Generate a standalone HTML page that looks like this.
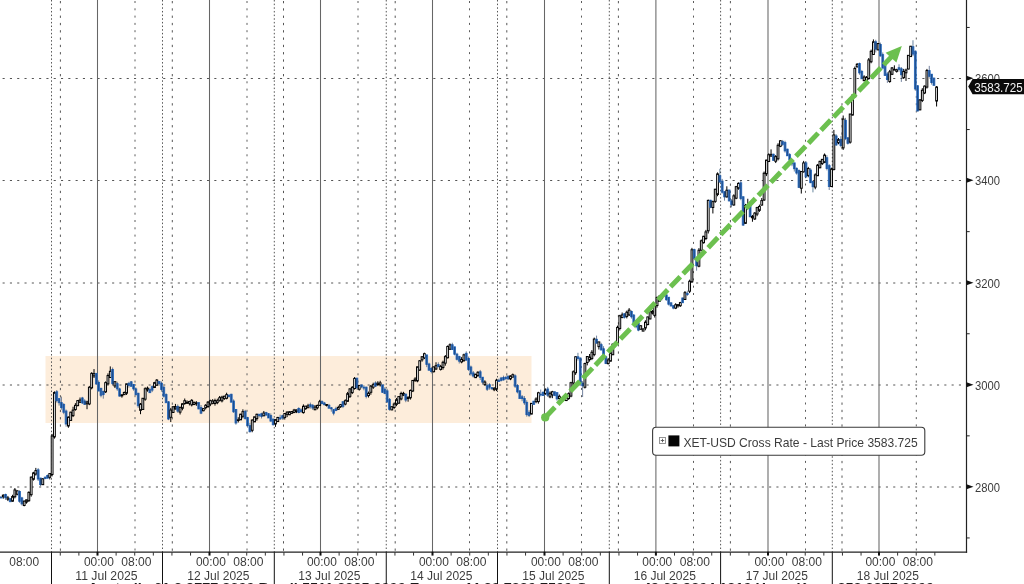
<!DOCTYPE html>
<html><head><meta charset="utf-8"><title>XET-USD Cross Rate</title>
<style>
html,body{margin:0;padding:0;background:#fff;}
body{width:1024px;height:584px;overflow:hidden;position:relative;font-family:"Liberation Sans",sans-serif;}
svg text{font-family:"Liberation Sans",sans-serif;}
svg{opacity:0.999;will-change:transform;}
</style></head><body>
<svg width="1024" height="584" viewBox="0 0 1024 584" style="display:block;position:absolute;left:0;top:0">
<defs><filter id="bl" x="0" y="0" width="100%" height="100%" filterUnits="userSpaceOnUse"><feGaussianBlur stdDeviation="0.35"/></filter></defs>
<rect x="0" y="0" width="1024" height="584" fill="#ffffff"/>
<rect x="45.5" y="356" width="486" height="67" fill="#fdeddb"/>
<line x1="0" y1="78.50" x2="964.5" y2="78.50" stroke="#555" stroke-width="1" stroke-dasharray="2.1 5.2" stroke-dashoffset="-2.6"/>
<line x1="0" y1="180.50" x2="964.5" y2="180.50" stroke="#555" stroke-width="1" stroke-dasharray="2.1 5.2" stroke-dashoffset="-2.6"/>
<line x1="0" y1="283.00" x2="964.5" y2="283.00" stroke="#555" stroke-width="1" stroke-dasharray="2.1 5.2" stroke-dashoffset="-2.6"/>
<line x1="0" y1="385.00" x2="964.5" y2="385.00" stroke="#555" stroke-width="1" stroke-dasharray="2.1 5.2" stroke-dashoffset="-2.6"/>
<line x1="0" y1="487.00" x2="964.5" y2="487.00" stroke="#555" stroke-width="1" stroke-dasharray="2.1 5.2" stroke-dashoffset="-2.6"/>
<line x1="97.50" y1="0" x2="97.50" y2="552.2" stroke="#666" stroke-width="1.05"/>
<line x1="209.50" y1="0" x2="209.50" y2="552.2" stroke="#666" stroke-width="1.05"/>
<line x1="320.50" y1="0" x2="320.50" y2="552.2" stroke="#666" stroke-width="1.05"/>
<line x1="432.50" y1="0" x2="432.50" y2="552.2" stroke="#666" stroke-width="1.05"/>
<line x1="544.50" y1="0" x2="544.50" y2="552.2" stroke="#666" stroke-width="1.05"/>
<line x1="655.90" y1="0" x2="655.90" y2="552.2" stroke="#666" stroke-width="1.05"/>
<line x1="768.00" y1="0" x2="768.00" y2="552.2" stroke="#666" stroke-width="1.05"/>
<line x1="879.00" y1="0" x2="879.00" y2="552.2" stroke="#666" stroke-width="1.05"/>
<line x1="135.00" y1="0" x2="135.00" y2="552.2" stroke="#5c5c5c" stroke-width="1" stroke-dasharray="2.0 5.3" stroke-dashoffset="-1"/>
<line x1="247.00" y1="0" x2="247.00" y2="552.2" stroke="#5c5c5c" stroke-width="1" stroke-dasharray="2.0 5.3" stroke-dashoffset="-1"/>
<line x1="358.00" y1="0" x2="358.00" y2="552.2" stroke="#5c5c5c" stroke-width="1" stroke-dasharray="2.0 5.3" stroke-dashoffset="-1"/>
<line x1="469.50" y1="0" x2="469.50" y2="552.2" stroke="#5c5c5c" stroke-width="1" stroke-dasharray="2.0 5.3" stroke-dashoffset="-1"/>
<line x1="581.50" y1="0" x2="581.50" y2="552.2" stroke="#5c5c5c" stroke-width="1" stroke-dasharray="2.0 5.3" stroke-dashoffset="-1"/>
<line x1="693.50" y1="0" x2="693.50" y2="552.2" stroke="#5c5c5c" stroke-width="1" stroke-dasharray="2.0 5.3" stroke-dashoffset="-1"/>
<line x1="805.50" y1="0" x2="805.50" y2="552.2" stroke="#5c5c5c" stroke-width="1" stroke-dasharray="2.0 5.3" stroke-dashoffset="-1"/>
<line x1="916.30" y1="0" x2="916.30" y2="552.2" stroke="#5c5c5c" stroke-width="1" stroke-dasharray="2.0 5.3" stroke-dashoffset="-1"/>
<line x1="51.50" y1="0" x2="51.50" y2="552.2" stroke="#555" stroke-width="1" stroke-dasharray="1.5 2.15"/>
<line x1="162.50" y1="0" x2="162.50" y2="552.2" stroke="#555" stroke-width="1" stroke-dasharray="1.5 2.15"/>
<line x1="274.30" y1="0" x2="274.30" y2="552.2" stroke="#555" stroke-width="1" stroke-dasharray="1.5 2.15"/>
<line x1="386.25" y1="0" x2="386.25" y2="552.2" stroke="#555" stroke-width="1" stroke-dasharray="1.5 2.15"/>
<line x1="497.50" y1="0" x2="497.50" y2="552.2" stroke="#555" stroke-width="1" stroke-dasharray="1.5 2.15"/>
<line x1="609.30" y1="0" x2="609.30" y2="552.2" stroke="#555" stroke-width="1" stroke-dasharray="1.5 2.15"/>
<line x1="720.60" y1="0" x2="720.60" y2="552.2" stroke="#555" stroke-width="1" stroke-dasharray="1.5 2.15"/>
<line x1="832.30" y1="0" x2="832.30" y2="552.2" stroke="#555" stroke-width="1" stroke-dasharray="1.5 2.15"/>
<line x1="60.40" y1="0" x2="60.40" y2="552.2" stroke="#555" stroke-width="1" stroke-dasharray="2.3 5.0" stroke-dashoffset="-1"/>
<line x1="172.30" y1="0" x2="172.30" y2="552.2" stroke="#555" stroke-width="1" stroke-dasharray="2.3 5.0" stroke-dashoffset="-1"/>
<line x1="283.50" y1="0" x2="283.50" y2="552.2" stroke="#555" stroke-width="1" stroke-dasharray="2.3 5.0" stroke-dashoffset="-1"/>
<line x1="395.20" y1="0" x2="395.20" y2="552.2" stroke="#555" stroke-width="1" stroke-dasharray="2.3 5.0" stroke-dashoffset="-1"/>
<line x1="506.80" y1="0" x2="506.80" y2="552.2" stroke="#555" stroke-width="1" stroke-dasharray="2.3 5.0" stroke-dashoffset="-1"/>
<line x1="618.40" y1="0" x2="618.40" y2="552.2" stroke="#555" stroke-width="1" stroke-dasharray="2.3 5.0" stroke-dashoffset="-1"/>
<line x1="730.40" y1="0" x2="730.40" y2="552.2" stroke="#555" stroke-width="1" stroke-dasharray="2.3 5.0" stroke-dashoffset="-1"/>
<line x1="842.00" y1="0" x2="842.00" y2="552.2" stroke="#555" stroke-width="1" stroke-dasharray="2.3 5.0" stroke-dashoffset="-1"/>
<g filter="url(#bl)">
<rect x="0.03" y="497.19" width="1.8" height="0.80" fill="#3070c2" stroke="#3070c2" stroke-width="0.9"/>
<line x1="0.93" y1="496.08" x2="0.93" y2="498.12" stroke="#10305e" stroke-width="0.8" stroke-opacity="0.75"/>
<line x1="3.26" y1="494.29" x2="3.26" y2="498.70" stroke="#000" stroke-width="1.0"/>
<rect x="2.36" y="495.23" width="1.8" height="1.55" fill="#fff" stroke="#000" stroke-width="1.0"/>
<rect x="4.68" y="494.50" width="1.8" height="3.26" fill="#3070c2" stroke="#3070c2" stroke-width="0.9"/>
<line x1="5.58" y1="493.63" x2="5.58" y2="499.91" stroke="#10305e" stroke-width="0.8" stroke-opacity="0.75"/>
<line x1="7.91" y1="495.94" x2="7.91" y2="501.07" stroke="#000" stroke-width="1.0"/>
<rect x="7.01" y="497.94" width="1.8" height="1.33" fill="#fff" stroke="#000" stroke-width="1.0"/>
<rect x="9.34" y="498.62" width="1.8" height="3.11" fill="#3070c2" stroke="#3070c2" stroke-width="0.9"/>
<line x1="10.24" y1="498.48" x2="10.24" y2="501.86" stroke="#10305e" stroke-width="0.8" stroke-opacity="0.75"/>
<line x1="12.56" y1="494.77" x2="12.56" y2="501.81" stroke="#000" stroke-width="1.0"/>
<rect x="11.66" y="496.52" width="1.8" height="4.64" fill="#fff" stroke="#000" stroke-width="1.0"/>
<line x1="14.89" y1="488.04" x2="14.89" y2="498.39" stroke="#000" stroke-width="1.0"/>
<rect x="13.99" y="489.96" width="1.8" height="6.82" fill="#fff" stroke="#000" stroke-width="1.0"/>
<line x1="17.22" y1="490.49" x2="17.22" y2="495.33" stroke="#000" stroke-width="1.0"/>
<rect x="16.32" y="490.83" width="1.8" height="3.43" fill="#fff" stroke="#000" stroke-width="1.0"/>
<rect x="18.64" y="491.51" width="1.8" height="9.78" fill="#3070c2" stroke="#3070c2" stroke-width="0.9"/>
<line x1="19.54" y1="490.31" x2="19.54" y2="502.81" stroke="#10305e" stroke-width="0.8" stroke-opacity="0.75"/>
<rect x="20.97" y="497.89" width="1.8" height="5.99" fill="#3070c2" stroke="#3070c2" stroke-width="0.9"/>
<line x1="21.87" y1="496.85" x2="21.87" y2="505.46" stroke="#10305e" stroke-width="0.8" stroke-opacity="0.75"/>
<line x1="24.20" y1="500.49" x2="24.20" y2="506.31" stroke="#000" stroke-width="1.0"/>
<rect x="23.30" y="501.12" width="1.8" height="4.34" fill="#fff" stroke="#000" stroke-width="1.0"/>
<line x1="26.52" y1="499.70" x2="26.52" y2="503.70" stroke="#000" stroke-width="1.0"/>
<rect x="25.62" y="499.83" width="1.8" height="2.19" fill="#fff" stroke="#000" stroke-width="1.0"/>
<line x1="28.85" y1="491.38" x2="28.85" y2="501.92" stroke="#000" stroke-width="1.0"/>
<rect x="27.95" y="492.37" width="1.8" height="8.34" fill="#fff" stroke="#000" stroke-width="1.0"/>
<line x1="31.18" y1="476.39" x2="31.18" y2="496.65" stroke="#000" stroke-width="1.0"/>
<rect x="30.28" y="477.18" width="1.8" height="17.53" fill="#fff" stroke="#000" stroke-width="1.0"/>
<line x1="33.50" y1="471.84" x2="33.50" y2="480.57" stroke="#000" stroke-width="1.0"/>
<rect x="32.60" y="472.91" width="1.8" height="6.37" fill="#fff" stroke="#000" stroke-width="1.0"/>
<line x1="35.83" y1="467.90" x2="35.83" y2="475.58" stroke="#000" stroke-width="1.0"/>
<rect x="34.93" y="470.58" width="1.8" height="3.47" fill="#fff" stroke="#000" stroke-width="1.0"/>
<rect x="37.26" y="469.82" width="1.8" height="9.22" fill="#3070c2" stroke="#3070c2" stroke-width="0.9"/>
<line x1="38.16" y1="468.10" x2="38.16" y2="480.96" stroke="#10305e" stroke-width="0.8" stroke-opacity="0.75"/>
<rect x="39.58" y="478.07" width="1.8" height="6.54" fill="#3070c2" stroke="#3070c2" stroke-width="0.9"/>
<line x1="40.48" y1="477.84" x2="40.48" y2="486.15" stroke="#10305e" stroke-width="0.8" stroke-opacity="0.75"/>
<line x1="42.81" y1="478.09" x2="42.81" y2="484.89" stroke="#000" stroke-width="1.0"/>
<rect x="41.91" y="478.81" width="1.8" height="5.86" fill="#fff" stroke="#000" stroke-width="1.0"/>
<rect x="44.24" y="477.18" width="1.8" height="1.32" fill="#3070c2" stroke="#3070c2" stroke-width="0.9"/>
<line x1="45.14" y1="476.62" x2="45.14" y2="479.26" stroke="#10305e" stroke-width="0.8" stroke-opacity="0.75"/>
<rect x="46.56" y="475.55" width="1.8" height="2.62" fill="#3070c2" stroke="#3070c2" stroke-width="0.9"/>
<line x1="47.46" y1="474.49" x2="47.46" y2="478.37" stroke="#10305e" stroke-width="0.8" stroke-opacity="0.75"/>
<line x1="49.79" y1="473.52" x2="49.79" y2="479.42" stroke="#000" stroke-width="1.0"/>
<rect x="48.89" y="473.57" width="1.8" height="3.76" fill="#fff" stroke="#000" stroke-width="1.0"/>
<line x1="52.12" y1="433.86" x2="52.12" y2="476.35" stroke="#000" stroke-width="1.0"/>
<rect x="51.22" y="436.01" width="1.8" height="38.44" fill="#fff" stroke="#000" stroke-width="1.0"/>
<line x1="54.44" y1="391.36" x2="54.44" y2="438.63" stroke="#000" stroke-width="1.0"/>
<rect x="53.54" y="392.53" width="1.8" height="44.39" fill="#fff" stroke="#000" stroke-width="1.0"/>
<rect x="55.87" y="391.78" width="1.8" height="8.89" fill="#3070c2" stroke="#3070c2" stroke-width="0.9"/>
<line x1="56.77" y1="390.01" x2="56.77" y2="402.47" stroke="#10305e" stroke-width="0.8" stroke-opacity="0.75"/>
<rect x="58.20" y="398.56" width="1.8" height="4.17" fill="#3070c2" stroke="#3070c2" stroke-width="0.9"/>
<line x1="59.10" y1="398.50" x2="59.10" y2="405.61" stroke="#10305e" stroke-width="0.8" stroke-opacity="0.75"/>
<rect x="60.52" y="402.61" width="1.8" height="4.99" fill="#3070c2" stroke="#3070c2" stroke-width="0.9"/>
<line x1="61.42" y1="396.58" x2="61.42" y2="409.70" stroke="#10305e" stroke-width="0.8" stroke-opacity="0.75"/>
<rect x="62.85" y="404.53" width="1.8" height="7.72" fill="#3070c2" stroke="#3070c2" stroke-width="0.9"/>
<line x1="63.75" y1="403.16" x2="63.75" y2="414.23" stroke="#10305e" stroke-width="0.8" stroke-opacity="0.75"/>
<rect x="65.18" y="411.02" width="1.8" height="12.99" fill="#3070c2" stroke="#3070c2" stroke-width="0.9"/>
<line x1="66.08" y1="409.56" x2="66.08" y2="426.67" stroke="#10305e" stroke-width="0.8" stroke-opacity="0.75"/>
<line x1="68.40" y1="416.41" x2="68.40" y2="427.76" stroke="#000" stroke-width="1.0"/>
<rect x="67.50" y="417.14" width="1.8" height="8.82" fill="#fff" stroke="#000" stroke-width="1.0"/>
<line x1="70.73" y1="411.79" x2="70.73" y2="420.69" stroke="#000" stroke-width="1.0"/>
<rect x="69.83" y="412.17" width="1.8" height="8.24" fill="#fff" stroke="#000" stroke-width="1.0"/>
<line x1="73.06" y1="406.73" x2="73.06" y2="417.07" stroke="#000" stroke-width="1.0"/>
<rect x="72.16" y="410.11" width="1.8" height="5.52" fill="#fff" stroke="#000" stroke-width="1.0"/>
<line x1="75.38" y1="403.15" x2="75.38" y2="410.71" stroke="#000" stroke-width="1.0"/>
<rect x="74.48" y="405.37" width="1.8" height="4.18" fill="#fff" stroke="#000" stroke-width="1.0"/>
<line x1="77.71" y1="400.04" x2="77.71" y2="406.28" stroke="#000" stroke-width="1.0"/>
<rect x="76.81" y="400.60" width="1.8" height="5.03" fill="#fff" stroke="#000" stroke-width="1.0"/>
<line x1="80.04" y1="397.50" x2="80.04" y2="403.03" stroke="#000" stroke-width="1.0"/>
<rect x="79.14" y="400.05" width="1.8" height="2.21" fill="#fff" stroke="#000" stroke-width="1.0"/>
<rect x="81.46" y="397.96" width="1.8" height="4.90" fill="#3070c2" stroke="#3070c2" stroke-width="0.9"/>
<line x1="82.36" y1="396.86" x2="82.36" y2="404.03" stroke="#10305e" stroke-width="0.8" stroke-opacity="0.75"/>
<rect x="83.79" y="401.00" width="1.8" height="3.36" fill="#3070c2" stroke="#3070c2" stroke-width="0.9"/>
<line x1="84.69" y1="399.24" x2="84.69" y2="404.76" stroke="#10305e" stroke-width="0.8" stroke-opacity="0.75"/>
<line x1="87.02" y1="400.70" x2="87.02" y2="409.23" stroke="#000" stroke-width="1.0"/>
<rect x="86.12" y="401.92" width="1.8" height="1.87" fill="#fff" stroke="#000" stroke-width="1.0"/>
<line x1="89.34" y1="385.91" x2="89.34" y2="405.17" stroke="#000" stroke-width="1.0"/>
<rect x="88.44" y="387.30" width="1.8" height="16.63" fill="#fff" stroke="#000" stroke-width="1.0"/>
<line x1="91.67" y1="372.25" x2="91.67" y2="389.32" stroke="#000" stroke-width="1.0"/>
<rect x="90.77" y="373.38" width="1.8" height="14.42" fill="#fff" stroke="#000" stroke-width="1.0"/>
<line x1="94.00" y1="369.07" x2="94.00" y2="378.01" stroke="#000" stroke-width="1.0"/>
<rect x="93.10" y="373.60" width="1.8" height="2.31" fill="#fff" stroke="#000" stroke-width="1.0"/>
<rect x="95.42" y="373.38" width="1.8" height="10.55" fill="#3070c2" stroke="#3070c2" stroke-width="0.9"/>
<line x1="96.32" y1="373.11" x2="96.32" y2="384.90" stroke="#10305e" stroke-width="0.8" stroke-opacity="0.75"/>
<rect x="97.75" y="382.38" width="1.8" height="8.60" fill="#3070c2" stroke="#3070c2" stroke-width="0.9"/>
<line x1="98.65" y1="380.41" x2="98.65" y2="391.32" stroke="#10305e" stroke-width="0.8" stroke-opacity="0.75"/>
<rect x="100.08" y="388.31" width="1.8" height="6.94" fill="#3070c2" stroke="#3070c2" stroke-width="0.9"/>
<line x1="100.98" y1="387.82" x2="100.98" y2="397.34" stroke="#10305e" stroke-width="0.8" stroke-opacity="0.75"/>
<rect x="102.40" y="391.54" width="1.8" height="3.07" fill="#3070c2" stroke="#3070c2" stroke-width="0.9"/>
<line x1="103.30" y1="390.59" x2="103.30" y2="398.63" stroke="#10305e" stroke-width="0.8" stroke-opacity="0.75"/>
<line x1="105.63" y1="381.40" x2="105.63" y2="393.04" stroke="#000" stroke-width="1.0"/>
<rect x="104.73" y="382.62" width="1.8" height="9.19" fill="#fff" stroke="#000" stroke-width="1.0"/>
<line x1="107.96" y1="373.38" x2="107.96" y2="385.64" stroke="#000" stroke-width="1.0"/>
<rect x="107.06" y="375.54" width="1.8" height="8.36" fill="#fff" stroke="#000" stroke-width="1.0"/>
<line x1="110.28" y1="366.41" x2="110.28" y2="377.80" stroke="#000" stroke-width="1.0"/>
<rect x="109.38" y="371.30" width="1.8" height="6.21" fill="#fff" stroke="#000" stroke-width="1.0"/>
<rect x="111.71" y="369.53" width="1.8" height="14.14" fill="#3070c2" stroke="#3070c2" stroke-width="0.9"/>
<line x1="112.61" y1="367.51" x2="112.61" y2="384.92" stroke="#10305e" stroke-width="0.8" stroke-opacity="0.75"/>
<line x1="114.94" y1="381.49" x2="114.94" y2="388.04" stroke="#000" stroke-width="1.0"/>
<rect x="114.04" y="381.65" width="1.8" height="4.33" fill="#fff" stroke="#000" stroke-width="1.0"/>
<rect x="116.36" y="383.68" width="1.8" height="5.13" fill="#3070c2" stroke="#3070c2" stroke-width="0.9"/>
<line x1="117.26" y1="381.78" x2="117.26" y2="390.80" stroke="#10305e" stroke-width="0.8" stroke-opacity="0.75"/>
<rect x="118.69" y="388.91" width="1.8" height="7.19" fill="#3070c2" stroke="#3070c2" stroke-width="0.9"/>
<line x1="119.59" y1="387.75" x2="119.59" y2="396.62" stroke="#10305e" stroke-width="0.8" stroke-opacity="0.75"/>
<line x1="121.92" y1="394.18" x2="121.92" y2="397.67" stroke="#000" stroke-width="1.0"/>
<rect x="121.02" y="394.89" width="1.8" height="0.96" fill="#fff" stroke="#000" stroke-width="1.0"/>
<line x1="124.24" y1="391.50" x2="124.24" y2="394.88" stroke="#000" stroke-width="1.0"/>
<rect x="123.34" y="392.51" width="1.8" height="2.13" fill="#fff" stroke="#000" stroke-width="1.0"/>
<line x1="126.57" y1="383.64" x2="126.57" y2="394.96" stroke="#000" stroke-width="1.0"/>
<rect x="125.67" y="383.88" width="1.8" height="9.28" fill="#fff" stroke="#000" stroke-width="1.0"/>
<rect x="128.00" y="383.34" width="1.8" height="1.97" fill="#3070c2" stroke="#3070c2" stroke-width="0.9"/>
<line x1="128.90" y1="381.83" x2="128.90" y2="387.66" stroke="#10305e" stroke-width="0.8" stroke-opacity="0.75"/>
<rect x="130.32" y="381.81" width="1.8" height="4.52" fill="#3070c2" stroke="#3070c2" stroke-width="0.9"/>
<line x1="131.22" y1="381.04" x2="131.22" y2="386.45" stroke="#10305e" stroke-width="0.8" stroke-opacity="0.75"/>
<rect x="132.65" y="384.42" width="1.8" height="4.44" fill="#3070c2" stroke="#3070c2" stroke-width="0.9"/>
<line x1="133.55" y1="384.23" x2="133.55" y2="390.70" stroke="#10305e" stroke-width="0.8" stroke-opacity="0.75"/>
<rect x="134.98" y="388.92" width="1.8" height="5.72" fill="#3070c2" stroke="#3070c2" stroke-width="0.9"/>
<line x1="135.88" y1="387.41" x2="135.88" y2="395.48" stroke="#10305e" stroke-width="0.8" stroke-opacity="0.75"/>
<rect x="137.30" y="393.28" width="1.8" height="12.48" fill="#3070c2" stroke="#3070c2" stroke-width="0.9"/>
<line x1="138.20" y1="392.74" x2="138.20" y2="407.88" stroke="#10305e" stroke-width="0.8" stroke-opacity="0.75"/>
<line x1="140.53" y1="402.96" x2="140.53" y2="414.19" stroke="#000" stroke-width="1.0"/>
<rect x="139.63" y="404.07" width="1.8" height="6.27" fill="#fff" stroke="#000" stroke-width="1.0"/>
<line x1="142.86" y1="398.18" x2="142.86" y2="409.52" stroke="#000" stroke-width="1.0"/>
<rect x="141.96" y="398.27" width="1.8" height="11.19" fill="#fff" stroke="#000" stroke-width="1.0"/>
<line x1="145.18" y1="387.27" x2="145.18" y2="400.75" stroke="#000" stroke-width="1.0"/>
<rect x="144.28" y="388.72" width="1.8" height="10.45" fill="#fff" stroke="#000" stroke-width="1.0"/>
<line x1="147.51" y1="386.56" x2="147.51" y2="391.67" stroke="#000" stroke-width="1.0"/>
<rect x="146.61" y="388.16" width="1.8" height="1.75" fill="#fff" stroke="#000" stroke-width="1.0"/>
<rect x="148.94" y="389.58" width="1.8" height="3.09" fill="#3070c2" stroke="#3070c2" stroke-width="0.9"/>
<line x1="149.84" y1="387.80" x2="149.84" y2="392.98" stroke="#10305e" stroke-width="0.8" stroke-opacity="0.75"/>
<rect x="151.26" y="386.63" width="1.8" height="3.50" fill="#3070c2" stroke="#3070c2" stroke-width="0.9"/>
<line x1="152.16" y1="385.34" x2="152.16" y2="392.09" stroke="#10305e" stroke-width="0.8" stroke-opacity="0.75"/>
<line x1="154.49" y1="381.85" x2="154.49" y2="388.04" stroke="#000" stroke-width="1.0"/>
<rect x="153.59" y="382.64" width="1.8" height="4.84" fill="#fff" stroke="#000" stroke-width="1.0"/>
<line x1="156.82" y1="379.05" x2="156.82" y2="385.22" stroke="#000" stroke-width="1.0"/>
<rect x="155.92" y="380.13" width="1.8" height="5.09" fill="#fff" stroke="#000" stroke-width="1.0"/>
<rect x="158.24" y="381.51" width="1.8" height="2.22" fill="#3070c2" stroke="#3070c2" stroke-width="0.9"/>
<line x1="159.14" y1="381.37" x2="159.14" y2="385.76" stroke="#10305e" stroke-width="0.8" stroke-opacity="0.75"/>
<rect x="160.57" y="383.19" width="1.8" height="6.31" fill="#3070c2" stroke="#3070c2" stroke-width="0.9"/>
<line x1="161.47" y1="381.56" x2="161.47" y2="391.65" stroke="#10305e" stroke-width="0.8" stroke-opacity="0.75"/>
<rect x="162.90" y="387.25" width="1.8" height="8.92" fill="#3070c2" stroke="#3070c2" stroke-width="0.9"/>
<line x1="163.80" y1="385.89" x2="163.80" y2="397.58" stroke="#10305e" stroke-width="0.8" stroke-opacity="0.75"/>
<rect x="165.22" y="394.58" width="1.8" height="8.15" fill="#3070c2" stroke="#3070c2" stroke-width="0.9"/>
<line x1="166.12" y1="393.33" x2="166.12" y2="402.76" stroke="#10305e" stroke-width="0.8" stroke-opacity="0.75"/>
<rect x="167.55" y="401.81" width="1.8" height="17.21" fill="#3070c2" stroke="#3070c2" stroke-width="0.9"/>
<line x1="168.45" y1="401.17" x2="168.45" y2="420.15" stroke="#10305e" stroke-width="0.8" stroke-opacity="0.75"/>
<line x1="170.78" y1="407.87" x2="170.78" y2="422.06" stroke="#000" stroke-width="1.0"/>
<rect x="169.88" y="410.03" width="1.8" height="7.26" fill="#fff" stroke="#000" stroke-width="1.0"/>
<line x1="173.10" y1="406.14" x2="173.10" y2="412.92" stroke="#000" stroke-width="1.0"/>
<rect x="172.20" y="406.73" width="1.8" height="5.72" fill="#fff" stroke="#000" stroke-width="1.0"/>
<line x1="175.43" y1="403.90" x2="175.43" y2="409.39" stroke="#000" stroke-width="1.0"/>
<rect x="174.53" y="406.52" width="1.8" height="2.57" fill="#fff" stroke="#000" stroke-width="1.0"/>
<rect x="176.86" y="406.38" width="1.8" height="4.75" fill="#3070c2" stroke="#3070c2" stroke-width="0.9"/>
<line x1="177.76" y1="404.41" x2="177.76" y2="412.77" stroke="#10305e" stroke-width="0.8" stroke-opacity="0.75"/>
<line x1="180.08" y1="406.94" x2="180.08" y2="414.51" stroke="#000" stroke-width="1.0"/>
<rect x="179.18" y="407.25" width="1.8" height="4.91" fill="#fff" stroke="#000" stroke-width="1.0"/>
<line x1="182.41" y1="403.15" x2="182.41" y2="410.33" stroke="#000" stroke-width="1.0"/>
<rect x="181.51" y="403.84" width="1.8" height="4.45" fill="#fff" stroke="#000" stroke-width="1.0"/>
<line x1="184.74" y1="398.50" x2="184.74" y2="404.82" stroke="#000" stroke-width="1.0"/>
<rect x="183.84" y="400.70" width="1.8" height="2.83" fill="#fff" stroke="#000" stroke-width="1.0"/>
<line x1="187.06" y1="400.42" x2="187.06" y2="403.91" stroke="#000" stroke-width="1.0"/>
<rect x="186.16" y="402.26" width="1.8" height="1.03" fill="#fff" stroke="#000" stroke-width="1.0"/>
<line x1="189.39" y1="400.78" x2="189.39" y2="405.41" stroke="#000" stroke-width="1.0"/>
<rect x="188.49" y="401.60" width="1.8" height="1.71" fill="#fff" stroke="#000" stroke-width="1.0"/>
<line x1="191.72" y1="399.13" x2="191.72" y2="406.40" stroke="#000" stroke-width="1.0"/>
<rect x="190.82" y="400.34" width="1.8" height="4.48" fill="#fff" stroke="#000" stroke-width="1.0"/>
<line x1="194.04" y1="401.68" x2="194.04" y2="404.68" stroke="#000" stroke-width="1.0"/>
<rect x="193.14" y="402.30" width="1.8" height="2.27" fill="#fff" stroke="#000" stroke-width="1.0"/>
<line x1="196.37" y1="401.19" x2="196.37" y2="405.82" stroke="#000" stroke-width="1.0"/>
<rect x="195.47" y="402.81" width="1.8" height="0.86" fill="#fff" stroke="#000" stroke-width="1.0"/>
<rect x="197.80" y="402.67" width="1.8" height="6.23" fill="#3070c2" stroke="#3070c2" stroke-width="0.9"/>
<line x1="198.70" y1="402.30" x2="198.70" y2="409.26" stroke="#10305e" stroke-width="0.8" stroke-opacity="0.75"/>
<rect x="200.12" y="407.39" width="1.8" height="5.75" fill="#3070c2" stroke="#3070c2" stroke-width="0.9"/>
<line x1="201.02" y1="405.03" x2="201.02" y2="414.13" stroke="#10305e" stroke-width="0.8" stroke-opacity="0.75"/>
<line x1="203.35" y1="408.09" x2="203.35" y2="411.30" stroke="#000" stroke-width="1.0"/>
<rect x="202.45" y="408.61" width="1.8" height="2.12" fill="#fff" stroke="#000" stroke-width="1.0"/>
<line x1="205.68" y1="404.12" x2="205.68" y2="409.48" stroke="#000" stroke-width="1.0"/>
<rect x="204.78" y="405.28" width="1.8" height="2.40" fill="#fff" stroke="#000" stroke-width="1.0"/>
<line x1="208.00" y1="401.04" x2="208.00" y2="407.92" stroke="#000" stroke-width="1.0"/>
<rect x="207.10" y="402.15" width="1.8" height="4.39" fill="#fff" stroke="#000" stroke-width="1.0"/>
<line x1="210.33" y1="399.69" x2="210.33" y2="406.14" stroke="#000" stroke-width="1.0"/>
<rect x="209.43" y="400.67" width="1.8" height="3.38" fill="#fff" stroke="#000" stroke-width="1.0"/>
<line x1="212.66" y1="399.12" x2="212.66" y2="404.32" stroke="#000" stroke-width="1.0"/>
<rect x="211.76" y="401.09" width="1.8" height="2.19" fill="#fff" stroke="#000" stroke-width="1.0"/>
<line x1="214.98" y1="398.66" x2="214.98" y2="405.65" stroke="#000" stroke-width="1.0"/>
<rect x="214.08" y="400.54" width="1.8" height="2.97" fill="#fff" stroke="#000" stroke-width="1.0"/>
<line x1="217.31" y1="398.69" x2="217.31" y2="404.23" stroke="#000" stroke-width="1.0"/>
<rect x="216.41" y="400.76" width="1.8" height="1.88" fill="#fff" stroke="#000" stroke-width="1.0"/>
<line x1="219.64" y1="395.98" x2="219.64" y2="401.57" stroke="#000" stroke-width="1.0"/>
<rect x="218.74" y="397.70" width="1.8" height="2.59" fill="#fff" stroke="#000" stroke-width="1.0"/>
<line x1="221.96" y1="395.75" x2="221.96" y2="402.38" stroke="#000" stroke-width="1.0"/>
<rect x="221.06" y="397.15" width="1.8" height="3.69" fill="#fff" stroke="#000" stroke-width="1.0"/>
<line x1="224.29" y1="395.73" x2="224.29" y2="399.93" stroke="#000" stroke-width="1.0"/>
<rect x="223.39" y="396.22" width="1.8" height="2.39" fill="#fff" stroke="#000" stroke-width="1.0"/>
<line x1="226.62" y1="392.71" x2="226.62" y2="399.34" stroke="#000" stroke-width="1.0"/>
<rect x="225.72" y="394.65" width="1.8" height="3.65" fill="#fff" stroke="#000" stroke-width="1.0"/>
<rect x="228.04" y="394.99" width="1.8" height="1.52" fill="#3070c2" stroke="#3070c2" stroke-width="0.9"/>
<line x1="228.94" y1="394.95" x2="228.94" y2="397.61" stroke="#10305e" stroke-width="0.8" stroke-opacity="0.75"/>
<rect x="230.37" y="394.27" width="1.8" height="7.91" fill="#3070c2" stroke="#3070c2" stroke-width="0.9"/>
<line x1="231.27" y1="393.77" x2="231.27" y2="402.26" stroke="#10305e" stroke-width="0.8" stroke-opacity="0.75"/>
<rect x="232.70" y="401.03" width="1.8" height="10.74" fill="#3070c2" stroke="#3070c2" stroke-width="0.9"/>
<line x1="233.60" y1="399.40" x2="233.60" y2="412.87" stroke="#10305e" stroke-width="0.8" stroke-opacity="0.75"/>
<rect x="235.02" y="409.54" width="1.8" height="13.45" fill="#3070c2" stroke="#3070c2" stroke-width="0.9"/>
<line x1="235.92" y1="409.05" x2="235.92" y2="424.66" stroke="#10305e" stroke-width="0.8" stroke-opacity="0.75"/>
<line x1="238.25" y1="417.22" x2="238.25" y2="422.46" stroke="#000" stroke-width="1.0"/>
<rect x="237.35" y="419.78" width="1.8" height="0.70" fill="#fff" stroke="#000" stroke-width="1.0"/>
<line x1="240.58" y1="413.84" x2="240.58" y2="419.94" stroke="#000" stroke-width="1.0"/>
<rect x="239.68" y="414.16" width="1.8" height="5.67" fill="#fff" stroke="#000" stroke-width="1.0"/>
<line x1="242.90" y1="409.31" x2="242.90" y2="418.32" stroke="#000" stroke-width="1.0"/>
<rect x="242.00" y="411.63" width="1.8" height="4.64" fill="#fff" stroke="#000" stroke-width="1.0"/>
<rect x="244.33" y="411.27" width="1.8" height="7.36" fill="#3070c2" stroke="#3070c2" stroke-width="0.9"/>
<line x1="245.23" y1="409.80" x2="245.23" y2="419.46" stroke="#10305e" stroke-width="0.8" stroke-opacity="0.75"/>
<rect x="246.66" y="417.62" width="1.8" height="7.92" fill="#3070c2" stroke="#3070c2" stroke-width="0.9"/>
<line x1="247.56" y1="416.85" x2="247.56" y2="427.65" stroke="#10305e" stroke-width="0.8" stroke-opacity="0.75"/>
<rect x="248.98" y="425.68" width="1.8" height="5.99" fill="#3070c2" stroke="#3070c2" stroke-width="0.9"/>
<line x1="249.88" y1="422.86" x2="249.88" y2="432.62" stroke="#10305e" stroke-width="0.8" stroke-opacity="0.75"/>
<line x1="252.21" y1="419.29" x2="252.21" y2="432.24" stroke="#000" stroke-width="1.0"/>
<rect x="251.31" y="420.09" width="1.8" height="10.18" fill="#fff" stroke="#000" stroke-width="1.0"/>
<line x1="254.54" y1="416.75" x2="254.54" y2="422.01" stroke="#000" stroke-width="1.0"/>
<rect x="253.64" y="416.83" width="1.8" height="5.04" fill="#fff" stroke="#000" stroke-width="1.0"/>
<line x1="256.86" y1="413.69" x2="256.86" y2="420.76" stroke="#000" stroke-width="1.0"/>
<rect x="255.96" y="414.28" width="1.8" height="4.37" fill="#fff" stroke="#000" stroke-width="1.0"/>
<rect x="258.29" y="414.24" width="1.8" height="1.40" fill="#3070c2" stroke="#3070c2" stroke-width="0.9"/>
<line x1="259.19" y1="414.24" x2="259.19" y2="417.41" stroke="#10305e" stroke-width="0.8" stroke-opacity="0.75"/>
<rect x="260.62" y="413.80" width="1.8" height="2.56" fill="#3070c2" stroke="#3070c2" stroke-width="0.9"/>
<line x1="261.52" y1="412.75" x2="261.52" y2="418.46" stroke="#10305e" stroke-width="0.8" stroke-opacity="0.75"/>
<line x1="263.84" y1="410.97" x2="263.84" y2="416.20" stroke="#000" stroke-width="1.0"/>
<rect x="262.94" y="413.01" width="1.8" height="2.79" fill="#fff" stroke="#000" stroke-width="1.0"/>
<rect x="265.27" y="412.60" width="1.8" height="2.41" fill="#3070c2" stroke="#3070c2" stroke-width="0.9"/>
<line x1="266.17" y1="411.87" x2="266.17" y2="415.71" stroke="#10305e" stroke-width="0.8" stroke-opacity="0.75"/>
<rect x="267.60" y="413.68" width="1.8" height="4.25" fill="#3070c2" stroke="#3070c2" stroke-width="0.9"/>
<line x1="268.50" y1="413.14" x2="268.50" y2="418.07" stroke="#10305e" stroke-width="0.8" stroke-opacity="0.75"/>
<rect x="269.92" y="415.60" width="1.8" height="5.49" fill="#3070c2" stroke="#3070c2" stroke-width="0.9"/>
<line x1="270.82" y1="413.43" x2="270.82" y2="421.68" stroke="#10305e" stroke-width="0.8" stroke-opacity="0.75"/>
<rect x="272.25" y="419.12" width="1.8" height="5.56" fill="#3070c2" stroke="#3070c2" stroke-width="0.9"/>
<line x1="273.15" y1="418.61" x2="273.15" y2="425.60" stroke="#10305e" stroke-width="0.8" stroke-opacity="0.75"/>
<line x1="275.48" y1="419.36" x2="275.48" y2="426.85" stroke="#000" stroke-width="1.0"/>
<rect x="274.58" y="419.62" width="1.8" height="4.29" fill="#fff" stroke="#000" stroke-width="1.0"/>
<line x1="277.80" y1="416.88" x2="277.80" y2="422.09" stroke="#000" stroke-width="1.0"/>
<rect x="276.90" y="417.46" width="1.8" height="4.06" fill="#fff" stroke="#000" stroke-width="1.0"/>
<rect x="279.23" y="417.81" width="1.8" height="1.08" fill="#3070c2" stroke="#3070c2" stroke-width="0.9"/>
<line x1="280.13" y1="414.69" x2="280.13" y2="420.01" stroke="#10305e" stroke-width="0.8" stroke-opacity="0.75"/>
<rect x="281.56" y="415.75" width="1.8" height="2.14" fill="#3070c2" stroke="#3070c2" stroke-width="0.9"/>
<line x1="282.46" y1="414.71" x2="282.46" y2="419.69" stroke="#10305e" stroke-width="0.8" stroke-opacity="0.75"/>
<line x1="284.78" y1="413.13" x2="284.78" y2="419.56" stroke="#000" stroke-width="1.0"/>
<rect x="283.88" y="413.54" width="1.8" height="3.88" fill="#fff" stroke="#000" stroke-width="1.0"/>
<line x1="287.11" y1="411.50" x2="287.11" y2="417.13" stroke="#000" stroke-width="1.0"/>
<rect x="286.21" y="412.07" width="1.8" height="2.33" fill="#fff" stroke="#000" stroke-width="1.0"/>
<line x1="289.44" y1="411.07" x2="289.44" y2="415.07" stroke="#000" stroke-width="1.0"/>
<rect x="288.54" y="411.88" width="1.8" height="2.87" fill="#fff" stroke="#000" stroke-width="1.0"/>
<line x1="291.76" y1="411.48" x2="291.76" y2="413.97" stroke="#000" stroke-width="1.0"/>
<rect x="290.86" y="411.51" width="1.8" height="1.75" fill="#fff" stroke="#000" stroke-width="1.0"/>
<line x1="294.09" y1="408.86" x2="294.09" y2="412.72" stroke="#000" stroke-width="1.0"/>
<rect x="293.19" y="410.07" width="1.8" height="2.51" fill="#fff" stroke="#000" stroke-width="1.0"/>
<line x1="296.42" y1="409.55" x2="296.42" y2="413.09" stroke="#000" stroke-width="1.0"/>
<rect x="295.52" y="409.91" width="1.8" height="1.65" fill="#fff" stroke="#000" stroke-width="1.0"/>
<rect x="297.84" y="408.47" width="1.8" height="4.00" fill="#3070c2" stroke="#3070c2" stroke-width="0.9"/>
<line x1="298.74" y1="407.22" x2="298.74" y2="413.26" stroke="#10305e" stroke-width="0.8" stroke-opacity="0.75"/>
<rect x="300.17" y="409.86" width="1.8" height="1.56" fill="#3070c2" stroke="#3070c2" stroke-width="0.9"/>
<line x1="301.07" y1="408.26" x2="301.07" y2="412.95" stroke="#10305e" stroke-width="0.8" stroke-opacity="0.75"/>
<line x1="303.40" y1="404.38" x2="303.40" y2="413.62" stroke="#000" stroke-width="1.0"/>
<rect x="302.50" y="406.32" width="1.8" height="6.29" fill="#fff" stroke="#000" stroke-width="1.0"/>
<line x1="305.72" y1="405.94" x2="305.72" y2="409.94" stroke="#000" stroke-width="1.0"/>
<rect x="304.82" y="406.14" width="1.8" height="2.44" fill="#fff" stroke="#000" stroke-width="1.0"/>
<line x1="308.05" y1="403.80" x2="308.05" y2="407.99" stroke="#000" stroke-width="1.0"/>
<rect x="307.15" y="405.83" width="1.8" height="1.92" fill="#fff" stroke="#000" stroke-width="1.0"/>
<rect x="309.48" y="404.69" width="1.8" height="1.67" fill="#3070c2" stroke="#3070c2" stroke-width="0.9"/>
<line x1="310.38" y1="402.62" x2="310.38" y2="408.54" stroke="#10305e" stroke-width="0.8" stroke-opacity="0.75"/>
<rect x="311.80" y="405.35" width="1.8" height="2.67" fill="#3070c2" stroke="#3070c2" stroke-width="0.9"/>
<line x1="312.70" y1="403.98" x2="312.70" y2="409.83" stroke="#10305e" stroke-width="0.8" stroke-opacity="0.75"/>
<line x1="315.03" y1="404.99" x2="315.03" y2="410.16" stroke="#000" stroke-width="1.0"/>
<rect x="314.13" y="407.04" width="1.8" height="2.72" fill="#fff" stroke="#000" stroke-width="1.0"/>
<line x1="317.36" y1="404.60" x2="317.36" y2="409.38" stroke="#000" stroke-width="1.0"/>
<rect x="316.46" y="405.44" width="1.8" height="2.35" fill="#fff" stroke="#000" stroke-width="1.0"/>
<line x1="319.68" y1="399.85" x2="319.68" y2="405.64" stroke="#000" stroke-width="1.0"/>
<rect x="318.78" y="401.69" width="1.8" height="3.69" fill="#fff" stroke="#000" stroke-width="1.0"/>
<rect x="321.11" y="401.60" width="1.8" height="1.86" fill="#3070c2" stroke="#3070c2" stroke-width="0.9"/>
<line x1="322.01" y1="400.32" x2="322.01" y2="404.44" stroke="#10305e" stroke-width="0.8" stroke-opacity="0.75"/>
<rect x="323.44" y="403.00" width="1.8" height="1.74" fill="#3070c2" stroke="#3070c2" stroke-width="0.9"/>
<line x1="324.34" y1="401.93" x2="324.34" y2="405.26" stroke="#10305e" stroke-width="0.8" stroke-opacity="0.75"/>
<line x1="326.66" y1="404.32" x2="326.66" y2="406.53" stroke="#000" stroke-width="1.0"/>
<rect x="325.76" y="404.55" width="1.8" height="0.92" fill="#fff" stroke="#000" stroke-width="1.0"/>
<rect x="328.09" y="405.27" width="1.8" height="2.93" fill="#3070c2" stroke="#3070c2" stroke-width="0.9"/>
<line x1="328.99" y1="403.87" x2="328.99" y2="408.38" stroke="#10305e" stroke-width="0.8" stroke-opacity="0.75"/>
<rect x="330.42" y="407.78" width="1.8" height="1.04" fill="#3070c2" stroke="#3070c2" stroke-width="0.9"/>
<line x1="331.32" y1="406.95" x2="331.32" y2="411.63" stroke="#10305e" stroke-width="0.8" stroke-opacity="0.75"/>
<rect x="332.74" y="409.62" width="1.8" height="3.56" fill="#3070c2" stroke="#3070c2" stroke-width="0.9"/>
<line x1="333.64" y1="409.11" x2="333.64" y2="415.35" stroke="#10305e" stroke-width="0.8" stroke-opacity="0.75"/>
<rect x="335.07" y="408.72" width="1.8" height="1.85" fill="#3070c2" stroke="#3070c2" stroke-width="0.9"/>
<line x1="335.97" y1="406.67" x2="335.97" y2="411.14" stroke="#10305e" stroke-width="0.8" stroke-opacity="0.75"/>
<line x1="338.30" y1="405.69" x2="338.30" y2="409.76" stroke="#000" stroke-width="1.0"/>
<rect x="337.40" y="407.48" width="1.8" height="1.77" fill="#fff" stroke="#000" stroke-width="1.0"/>
<line x1="340.62" y1="403.93" x2="340.62" y2="407.90" stroke="#000" stroke-width="1.0"/>
<rect x="339.72" y="404.63" width="1.8" height="2.04" fill="#fff" stroke="#000" stroke-width="1.0"/>
<rect x="342.05" y="401.73" width="1.8" height="4.64" fill="#3070c2" stroke="#3070c2" stroke-width="0.9"/>
<line x1="342.95" y1="401.36" x2="342.95" y2="408.09" stroke="#10305e" stroke-width="0.8" stroke-opacity="0.75"/>
<line x1="345.28" y1="399.29" x2="345.28" y2="405.33" stroke="#000" stroke-width="1.0"/>
<rect x="344.38" y="400.70" width="1.8" height="3.35" fill="#fff" stroke="#000" stroke-width="1.0"/>
<line x1="347.60" y1="391.92" x2="347.60" y2="401.89" stroke="#000" stroke-width="1.0"/>
<rect x="346.70" y="393.68" width="1.8" height="7.63" fill="#fff" stroke="#000" stroke-width="1.0"/>
<line x1="349.93" y1="388.45" x2="349.93" y2="398.01" stroke="#000" stroke-width="1.0"/>
<rect x="349.03" y="388.84" width="1.8" height="7.53" fill="#fff" stroke="#000" stroke-width="1.0"/>
<line x1="352.26" y1="386.05" x2="352.26" y2="394.05" stroke="#000" stroke-width="1.0"/>
<rect x="351.36" y="387.34" width="1.8" height="5.25" fill="#fff" stroke="#000" stroke-width="1.0"/>
<line x1="354.58" y1="377.05" x2="354.58" y2="389.64" stroke="#000" stroke-width="1.0"/>
<rect x="353.68" y="378.45" width="1.8" height="10.06" fill="#fff" stroke="#000" stroke-width="1.0"/>
<rect x="356.01" y="378.09" width="1.8" height="9.58" fill="#3070c2" stroke="#3070c2" stroke-width="0.9"/>
<line x1="356.91" y1="378.08" x2="356.91" y2="389.53" stroke="#10305e" stroke-width="0.8" stroke-opacity="0.75"/>
<line x1="359.24" y1="384.97" x2="359.24" y2="390.62" stroke="#000" stroke-width="1.0"/>
<rect x="358.34" y="385.42" width="1.8" height="3.83" fill="#fff" stroke="#000" stroke-width="1.0"/>
<rect x="360.66" y="384.97" width="1.8" height="1.85" fill="#3070c2" stroke="#3070c2" stroke-width="0.9"/>
<line x1="361.56" y1="384.76" x2="361.56" y2="388.23" stroke="#10305e" stroke-width="0.8" stroke-opacity="0.75"/>
<rect x="362.99" y="387.18" width="1.8" height="0.90" fill="#3070c2" stroke="#3070c2" stroke-width="0.9"/>
<line x1="363.89" y1="385.15" x2="363.89" y2="390.32" stroke="#10305e" stroke-width="0.8" stroke-opacity="0.75"/>
<rect x="365.32" y="387.18" width="1.8" height="9.21" fill="#3070c2" stroke="#3070c2" stroke-width="0.9"/>
<line x1="366.22" y1="386.63" x2="366.22" y2="398.38" stroke="#10305e" stroke-width="0.8" stroke-opacity="0.75"/>
<line x1="368.54" y1="391.57" x2="368.54" y2="397.53" stroke="#000" stroke-width="1.0"/>
<rect x="367.64" y="393.28" width="1.8" height="2.25" fill="#fff" stroke="#000" stroke-width="1.0"/>
<line x1="370.87" y1="384.98" x2="370.87" y2="394.74" stroke="#000" stroke-width="1.0"/>
<rect x="369.97" y="386.10" width="1.8" height="6.21" fill="#fff" stroke="#000" stroke-width="1.0"/>
<line x1="373.20" y1="382.70" x2="373.20" y2="388.93" stroke="#000" stroke-width="1.0"/>
<rect x="372.30" y="384.65" width="1.8" height="2.56" fill="#fff" stroke="#000" stroke-width="1.0"/>
<rect x="374.62" y="382.99" width="1.8" height="3.10" fill="#3070c2" stroke="#3070c2" stroke-width="0.9"/>
<line x1="375.52" y1="381.36" x2="375.52" y2="387.08" stroke="#10305e" stroke-width="0.8" stroke-opacity="0.75"/>
<line x1="377.85" y1="381.26" x2="377.85" y2="386.07" stroke="#000" stroke-width="1.0"/>
<rect x="376.95" y="383.23" width="1.8" height="1.31" fill="#fff" stroke="#000" stroke-width="1.0"/>
<line x1="380.18" y1="380.77" x2="380.18" y2="386.51" stroke="#000" stroke-width="1.0"/>
<rect x="379.28" y="382.90" width="1.8" height="1.98" fill="#fff" stroke="#000" stroke-width="1.0"/>
<rect x="381.60" y="384.96" width="1.8" height="7.33" fill="#3070c2" stroke="#3070c2" stroke-width="0.9"/>
<line x1="382.50" y1="384.93" x2="382.50" y2="392.86" stroke="#10305e" stroke-width="0.8" stroke-opacity="0.75"/>
<rect x="383.93" y="389.15" width="1.8" height="4.26" fill="#3070c2" stroke="#3070c2" stroke-width="0.9"/>
<line x1="384.83" y1="387.21" x2="384.83" y2="394.13" stroke="#10305e" stroke-width="0.8" stroke-opacity="0.75"/>
<rect x="386.26" y="390.88" width="1.8" height="10.97" fill="#3070c2" stroke="#3070c2" stroke-width="0.9"/>
<line x1="387.16" y1="388.73" x2="387.16" y2="402.89" stroke="#10305e" stroke-width="0.8" stroke-opacity="0.75"/>
<rect x="388.58" y="399.34" width="1.8" height="10.00" fill="#3070c2" stroke="#3070c2" stroke-width="0.9"/>
<line x1="389.48" y1="398.00" x2="389.48" y2="410.68" stroke="#10305e" stroke-width="0.8" stroke-opacity="0.75"/>
<line x1="391.81" y1="406.63" x2="391.81" y2="410.13" stroke="#000" stroke-width="1.0"/>
<rect x="390.91" y="406.69" width="1.8" height="3.21" fill="#fff" stroke="#000" stroke-width="1.0"/>
<line x1="394.14" y1="402.48" x2="394.14" y2="408.90" stroke="#000" stroke-width="1.0"/>
<rect x="393.24" y="404.01" width="1.8" height="3.50" fill="#fff" stroke="#000" stroke-width="1.0"/>
<line x1="396.46" y1="397.94" x2="396.46" y2="406.21" stroke="#000" stroke-width="1.0"/>
<rect x="395.56" y="399.74" width="1.8" height="4.66" fill="#fff" stroke="#000" stroke-width="1.0"/>
<line x1="398.79" y1="396.35" x2="398.79" y2="403.66" stroke="#000" stroke-width="1.0"/>
<rect x="397.89" y="396.59" width="1.8" height="6.61" fill="#fff" stroke="#000" stroke-width="1.0"/>
<line x1="401.12" y1="391.70" x2="401.12" y2="400.34" stroke="#000" stroke-width="1.0"/>
<rect x="400.22" y="393.52" width="1.8" height="5.43" fill="#fff" stroke="#000" stroke-width="1.0"/>
<line x1="403.44" y1="391.80" x2="403.44" y2="396.08" stroke="#000" stroke-width="1.0"/>
<rect x="402.54" y="393.37" width="1.8" height="1.78" fill="#fff" stroke="#000" stroke-width="1.0"/>
<rect x="404.87" y="394.20" width="1.8" height="5.86" fill="#3070c2" stroke="#3070c2" stroke-width="0.9"/>
<line x1="405.77" y1="393.50" x2="405.77" y2="402.19" stroke="#10305e" stroke-width="0.8" stroke-opacity="0.75"/>
<line x1="408.10" y1="396.34" x2="408.10" y2="401.70" stroke="#000" stroke-width="1.0"/>
<rect x="407.20" y="397.30" width="1.8" height="1.18" fill="#fff" stroke="#000" stroke-width="1.0"/>
<line x1="410.42" y1="389.50" x2="410.42" y2="399.59" stroke="#000" stroke-width="1.0"/>
<rect x="409.52" y="390.44" width="1.8" height="7.34" fill="#fff" stroke="#000" stroke-width="1.0"/>
<line x1="412.75" y1="380.44" x2="412.75" y2="392.07" stroke="#000" stroke-width="1.0"/>
<rect x="411.85" y="380.45" width="1.8" height="10.54" fill="#fff" stroke="#000" stroke-width="1.0"/>
<line x1="415.08" y1="377.22" x2="415.08" y2="381.98" stroke="#000" stroke-width="1.0"/>
<rect x="414.18" y="379.05" width="1.8" height="1.38" fill="#fff" stroke="#000" stroke-width="1.0"/>
<line x1="417.40" y1="366.60" x2="417.40" y2="382.27" stroke="#000" stroke-width="1.0"/>
<rect x="416.50" y="366.84" width="1.8" height="14.03" fill="#fff" stroke="#000" stroke-width="1.0"/>
<line x1="419.73" y1="360.01" x2="419.73" y2="370.91" stroke="#000" stroke-width="1.0"/>
<rect x="418.83" y="360.79" width="1.8" height="9.24" fill="#fff" stroke="#000" stroke-width="1.0"/>
<line x1="422.06" y1="356.27" x2="422.06" y2="361.71" stroke="#000" stroke-width="1.0"/>
<rect x="421.16" y="356.72" width="1.8" height="3.11" fill="#fff" stroke="#000" stroke-width="1.0"/>
<line x1="424.38" y1="352.67" x2="424.38" y2="359.08" stroke="#000" stroke-width="1.0"/>
<rect x="423.48" y="353.69" width="1.8" height="4.22" fill="#fff" stroke="#000" stroke-width="1.0"/>
<rect x="425.81" y="354.97" width="1.8" height="9.38" fill="#3070c2" stroke="#3070c2" stroke-width="0.9"/>
<line x1="426.71" y1="354.63" x2="426.71" y2="367.12" stroke="#10305e" stroke-width="0.8" stroke-opacity="0.75"/>
<rect x="428.14" y="364.00" width="1.8" height="6.19" fill="#3070c2" stroke="#3070c2" stroke-width="0.9"/>
<line x1="429.04" y1="362.73" x2="429.04" y2="370.58" stroke="#10305e" stroke-width="0.8" stroke-opacity="0.75"/>
<rect x="430.46" y="368.44" width="1.8" height="3.12" fill="#3070c2" stroke="#3070c2" stroke-width="0.9"/>
<line x1="431.36" y1="366.89" x2="431.36" y2="373.41" stroke="#10305e" stroke-width="0.8" stroke-opacity="0.75"/>
<line x1="433.69" y1="366.56" x2="433.69" y2="372.44" stroke="#000" stroke-width="1.0"/>
<rect x="432.79" y="366.91" width="1.8" height="4.80" fill="#fff" stroke="#000" stroke-width="1.0"/>
<line x1="436.02" y1="362.28" x2="436.02" y2="369.86" stroke="#000" stroke-width="1.0"/>
<rect x="435.12" y="365.66" width="1.8" height="3.35" fill="#fff" stroke="#000" stroke-width="1.0"/>
<rect x="437.44" y="364.62" width="1.8" height="2.17" fill="#3070c2" stroke="#3070c2" stroke-width="0.9"/>
<line x1="438.34" y1="362.37" x2="438.34" y2="367.03" stroke="#10305e" stroke-width="0.8" stroke-opacity="0.75"/>
<line x1="440.67" y1="364.85" x2="440.67" y2="370.53" stroke="#000" stroke-width="1.0"/>
<rect x="439.77" y="366.38" width="1.8" height="3.05" fill="#fff" stroke="#000" stroke-width="1.0"/>
<line x1="443.00" y1="360.68" x2="443.00" y2="369.63" stroke="#000" stroke-width="1.0"/>
<rect x="442.10" y="362.31" width="1.8" height="5.25" fill="#fff" stroke="#000" stroke-width="1.0"/>
<line x1="445.32" y1="355.04" x2="445.32" y2="365.69" stroke="#000" stroke-width="1.0"/>
<rect x="444.42" y="356.63" width="1.8" height="6.48" fill="#fff" stroke="#000" stroke-width="1.0"/>
<line x1="447.65" y1="345.48" x2="447.65" y2="358.44" stroke="#000" stroke-width="1.0"/>
<rect x="446.75" y="346.48" width="1.8" height="11.27" fill="#fff" stroke="#000" stroke-width="1.0"/>
<line x1="449.98" y1="343.43" x2="449.98" y2="349.81" stroke="#000" stroke-width="1.0"/>
<rect x="449.08" y="344.82" width="1.8" height="4.45" fill="#fff" stroke="#000" stroke-width="1.0"/>
<rect x="451.40" y="344.78" width="1.8" height="4.76" fill="#3070c2" stroke="#3070c2" stroke-width="0.9"/>
<line x1="452.30" y1="342.74" x2="452.30" y2="349.95" stroke="#10305e" stroke-width="0.8" stroke-opacity="0.75"/>
<rect x="453.73" y="346.84" width="1.8" height="7.36" fill="#3070c2" stroke="#3070c2" stroke-width="0.9"/>
<line x1="454.63" y1="346.76" x2="454.63" y2="355.39" stroke="#10305e" stroke-width="0.8" stroke-opacity="0.75"/>
<rect x="456.06" y="354.14" width="1.8" height="5.11" fill="#3070c2" stroke="#3070c2" stroke-width="0.9"/>
<line x1="456.96" y1="352.81" x2="456.96" y2="360.44" stroke="#10305e" stroke-width="0.8" stroke-opacity="0.75"/>
<rect x="458.38" y="356.66" width="1.8" height="4.50" fill="#3070c2" stroke="#3070c2" stroke-width="0.9"/>
<line x1="459.28" y1="355.76" x2="459.28" y2="363.51" stroke="#10305e" stroke-width="0.8" stroke-opacity="0.75"/>
<line x1="461.61" y1="357.11" x2="461.61" y2="363.28" stroke="#000" stroke-width="1.0"/>
<rect x="460.71" y="359.46" width="1.8" height="2.42" fill="#fff" stroke="#000" stroke-width="1.0"/>
<line x1="463.94" y1="353.70" x2="463.94" y2="361.96" stroke="#000" stroke-width="1.0"/>
<rect x="463.04" y="354.83" width="1.8" height="5.59" fill="#fff" stroke="#000" stroke-width="1.0"/>
<rect x="465.36" y="353.29" width="1.8" height="6.84" fill="#3070c2" stroke="#3070c2" stroke-width="0.9"/>
<line x1="466.26" y1="351.34" x2="466.26" y2="360.61" stroke="#10305e" stroke-width="0.8" stroke-opacity="0.75"/>
<rect x="467.69" y="358.48" width="1.8" height="11.03" fill="#3070c2" stroke="#3070c2" stroke-width="0.9"/>
<line x1="468.59" y1="356.62" x2="468.59" y2="370.90" stroke="#10305e" stroke-width="0.8" stroke-opacity="0.75"/>
<rect x="470.02" y="366.99" width="1.8" height="6.91" fill="#3070c2" stroke="#3070c2" stroke-width="0.9"/>
<line x1="470.92" y1="365.59" x2="470.92" y2="375.71" stroke="#10305e" stroke-width="0.8" stroke-opacity="0.75"/>
<rect x="472.34" y="372.90" width="1.8" height="3.18" fill="#3070c2" stroke="#3070c2" stroke-width="0.9"/>
<line x1="473.24" y1="371.07" x2="473.24" y2="377.52" stroke="#10305e" stroke-width="0.8" stroke-opacity="0.75"/>
<line x1="475.57" y1="373.82" x2="475.57" y2="377.67" stroke="#000" stroke-width="1.0"/>
<rect x="474.67" y="374.23" width="1.8" height="3.43" fill="#fff" stroke="#000" stroke-width="1.0"/>
<line x1="477.90" y1="371.32" x2="477.90" y2="376.98" stroke="#000" stroke-width="1.0"/>
<rect x="477.00" y="372.26" width="1.8" height="3.32" fill="#fff" stroke="#000" stroke-width="1.0"/>
<rect x="479.32" y="371.77" width="1.8" height="5.61" fill="#3070c2" stroke="#3070c2" stroke-width="0.9"/>
<line x1="480.22" y1="369.95" x2="480.22" y2="379.94" stroke="#10305e" stroke-width="0.8" stroke-opacity="0.75"/>
<rect x="481.65" y="377.22" width="1.8" height="4.92" fill="#3070c2" stroke="#3070c2" stroke-width="0.9"/>
<line x1="482.55" y1="377.19" x2="482.55" y2="384.64" stroke="#10305e" stroke-width="0.8" stroke-opacity="0.75"/>
<line x1="484.88" y1="380.32" x2="484.88" y2="385.64" stroke="#000" stroke-width="1.0"/>
<rect x="483.98" y="382.03" width="1.8" height="2.65" fill="#fff" stroke="#000" stroke-width="1.0"/>
<rect x="486.30" y="385.65" width="1.8" height="3.58" fill="#3070c2" stroke="#3070c2" stroke-width="0.9"/>
<line x1="487.20" y1="383.54" x2="487.20" y2="390.95" stroke="#10305e" stroke-width="0.8" stroke-opacity="0.75"/>
<rect x="488.63" y="384.73" width="1.8" height="2.45" fill="#3070c2" stroke="#3070c2" stroke-width="0.9"/>
<line x1="489.53" y1="383.21" x2="489.53" y2="389.57" stroke="#10305e" stroke-width="0.8" stroke-opacity="0.75"/>
<rect x="490.96" y="387.63" width="1.8" height="1.22" fill="#3070c2" stroke="#3070c2" stroke-width="0.9"/>
<line x1="491.86" y1="387.12" x2="491.86" y2="389.68" stroke="#10305e" stroke-width="0.8" stroke-opacity="0.75"/>
<line x1="494.18" y1="387.17" x2="494.18" y2="391.19" stroke="#000" stroke-width="1.0"/>
<rect x="493.28" y="388.26" width="1.8" height="1.47" fill="#fff" stroke="#000" stroke-width="1.0"/>
<line x1="496.51" y1="378.76" x2="496.51" y2="391.08" stroke="#000" stroke-width="1.0"/>
<rect x="495.61" y="380.23" width="1.8" height="9.00" fill="#fff" stroke="#000" stroke-width="1.0"/>
<rect x="497.94" y="380.22" width="1.8" height="1.27" fill="#3070c2" stroke="#3070c2" stroke-width="0.9"/>
<line x1="498.84" y1="378.67" x2="498.84" y2="381.55" stroke="#10305e" stroke-width="0.8" stroke-opacity="0.75"/>
<rect x="500.26" y="378.03" width="1.8" height="2.38" fill="#3070c2" stroke="#3070c2" stroke-width="0.9"/>
<line x1="501.16" y1="376.91" x2="501.16" y2="381.48" stroke="#10305e" stroke-width="0.8" stroke-opacity="0.75"/>
<rect x="502.59" y="377.56" width="1.8" height="2.28" fill="#3070c2" stroke="#3070c2" stroke-width="0.9"/>
<line x1="503.49" y1="375.67" x2="503.49" y2="380.64" stroke="#10305e" stroke-width="0.8" stroke-opacity="0.75"/>
<rect x="504.92" y="377.26" width="1.8" height="1.38" fill="#3070c2" stroke="#3070c2" stroke-width="0.9"/>
<line x1="505.82" y1="376.33" x2="505.82" y2="379.86" stroke="#10305e" stroke-width="0.8" stroke-opacity="0.75"/>
<rect x="507.24" y="376.19" width="1.8" height="2.69" fill="#3070c2" stroke="#3070c2" stroke-width="0.9"/>
<line x1="508.14" y1="375.59" x2="508.14" y2="380.00" stroke="#10305e" stroke-width="0.8" stroke-opacity="0.75"/>
<line x1="510.47" y1="375.34" x2="510.47" y2="380.16" stroke="#000" stroke-width="1.0"/>
<rect x="509.57" y="376.00" width="1.8" height="2.87" fill="#fff" stroke="#000" stroke-width="1.0"/>
<line x1="512.80" y1="373.54" x2="512.80" y2="377.28" stroke="#000" stroke-width="1.0"/>
<rect x="511.90" y="374.74" width="1.8" height="2.43" fill="#fff" stroke="#000" stroke-width="1.0"/>
<rect x="514.22" y="375.84" width="1.8" height="10.36" fill="#3070c2" stroke="#3070c2" stroke-width="0.9"/>
<line x1="515.12" y1="374.40" x2="515.12" y2="387.94" stroke="#10305e" stroke-width="0.8" stroke-opacity="0.75"/>
<rect x="516.55" y="385.44" width="1.8" height="6.41" fill="#3070c2" stroke="#3070c2" stroke-width="0.9"/>
<line x1="517.45" y1="384.02" x2="517.45" y2="393.35" stroke="#10305e" stroke-width="0.8" stroke-opacity="0.75"/>
<rect x="518.88" y="390.82" width="1.8" height="7.75" fill="#3070c2" stroke="#3070c2" stroke-width="0.9"/>
<line x1="519.78" y1="390.42" x2="519.78" y2="398.65" stroke="#10305e" stroke-width="0.8" stroke-opacity="0.75"/>
<rect x="521.20" y="396.77" width="1.8" height="1.86" fill="#3070c2" stroke="#3070c2" stroke-width="0.9"/>
<line x1="522.10" y1="395.04" x2="522.10" y2="401.24" stroke="#10305e" stroke-width="0.8" stroke-opacity="0.75"/>
<rect x="523.53" y="398.55" width="1.8" height="4.27" fill="#3070c2" stroke="#3070c2" stroke-width="0.9"/>
<line x1="524.43" y1="396.09" x2="524.43" y2="404.88" stroke="#10305e" stroke-width="0.8" stroke-opacity="0.75"/>
<rect x="525.86" y="402.40" width="1.8" height="12.21" fill="#3070c2" stroke="#3070c2" stroke-width="0.9"/>
<line x1="526.76" y1="400.32" x2="526.76" y2="416.63" stroke="#10305e" stroke-width="0.8" stroke-opacity="0.75"/>
<rect x="528.18" y="412.31" width="1.8" height="3.13" fill="#3070c2" stroke="#3070c2" stroke-width="0.9"/>
<line x1="529.08" y1="410.16" x2="529.08" y2="417.05" stroke="#10305e" stroke-width="0.8" stroke-opacity="0.75"/>
<line x1="531.41" y1="403.33" x2="531.41" y2="414.19" stroke="#000" stroke-width="1.0"/>
<rect x="530.51" y="403.36" width="1.8" height="10.70" fill="#fff" stroke="#000" stroke-width="1.0"/>
<rect x="532.84" y="401.21" width="1.8" height="3.20" fill="#3070c2" stroke="#3070c2" stroke-width="0.9"/>
<line x1="533.74" y1="400.93" x2="533.74" y2="404.45" stroke="#10305e" stroke-width="0.8" stroke-opacity="0.75"/>
<line x1="536.06" y1="397.32" x2="536.06" y2="403.27" stroke="#000" stroke-width="1.0"/>
<rect x="535.16" y="399.03" width="1.8" height="2.62" fill="#fff" stroke="#000" stroke-width="1.0"/>
<line x1="538.39" y1="391.77" x2="538.39" y2="403.63" stroke="#000" stroke-width="1.0"/>
<rect x="537.49" y="392.78" width="1.8" height="8.79" fill="#fff" stroke="#000" stroke-width="1.0"/>
<rect x="539.82" y="394.20" width="1.8" height="0.70" fill="#3070c2" stroke="#3070c2" stroke-width="0.9"/>
<line x1="540.72" y1="389.57" x2="540.72" y2="396.42" stroke="#10305e" stroke-width="0.8" stroke-opacity="0.75"/>
<rect x="542.14" y="392.54" width="1.8" height="3.01" fill="#3070c2" stroke="#3070c2" stroke-width="0.9"/>
<line x1="543.04" y1="391.08" x2="543.04" y2="395.68" stroke="#10305e" stroke-width="0.8" stroke-opacity="0.75"/>
<line x1="545.37" y1="388.36" x2="545.37" y2="394.89" stroke="#000" stroke-width="1.0"/>
<rect x="544.47" y="390.11" width="1.8" height="3.47" fill="#fff" stroke="#000" stroke-width="1.0"/>
<rect x="546.80" y="389.02" width="1.8" height="6.18" fill="#3070c2" stroke="#3070c2" stroke-width="0.9"/>
<line x1="547.70" y1="386.94" x2="547.70" y2="396.93" stroke="#10305e" stroke-width="0.8" stroke-opacity="0.75"/>
<line x1="550.02" y1="391.38" x2="550.02" y2="398.23" stroke="#000" stroke-width="1.0"/>
<rect x="549.12" y="393.20" width="1.8" height="3.67" fill="#fff" stroke="#000" stroke-width="1.0"/>
<line x1="552.35" y1="390.82" x2="552.35" y2="398.18" stroke="#000" stroke-width="1.0"/>
<rect x="551.45" y="391.76" width="1.8" height="3.13" fill="#fff" stroke="#000" stroke-width="1.0"/>
<rect x="553.78" y="391.87" width="1.8" height="3.77" fill="#3070c2" stroke="#3070c2" stroke-width="0.9"/>
<line x1="554.68" y1="391.24" x2="554.68" y2="395.64" stroke="#10305e" stroke-width="0.8" stroke-opacity="0.75"/>
<rect x="556.10" y="392.61" width="1.8" height="6.22" fill="#3070c2" stroke="#3070c2" stroke-width="0.9"/>
<line x1="557.00" y1="392.51" x2="557.00" y2="400.66" stroke="#10305e" stroke-width="0.8" stroke-opacity="0.75"/>
<line x1="559.33" y1="394.53" x2="559.33" y2="400.06" stroke="#000" stroke-width="1.0"/>
<rect x="558.43" y="396.31" width="1.8" height="2.24" fill="#fff" stroke="#000" stroke-width="1.0"/>
<line x1="561.66" y1="397.37" x2="561.66" y2="401.47" stroke="#000" stroke-width="1.0"/>
<rect x="560.76" y="397.81" width="1.8" height="2.01" fill="#fff" stroke="#000" stroke-width="1.0"/>
<rect x="563.08" y="398.37" width="1.8" height="1.68" fill="#3070c2" stroke="#3070c2" stroke-width="0.9"/>
<line x1="563.98" y1="397.92" x2="563.98" y2="400.61" stroke="#10305e" stroke-width="0.8" stroke-opacity="0.75"/>
<line x1="566.31" y1="396.21" x2="566.31" y2="401.07" stroke="#000" stroke-width="1.0"/>
<rect x="565.41" y="397.90" width="1.8" height="2.65" fill="#fff" stroke="#000" stroke-width="1.0"/>
<line x1="568.64" y1="392.41" x2="568.64" y2="399.85" stroke="#000" stroke-width="1.0"/>
<rect x="567.74" y="393.71" width="1.8" height="4.85" fill="#fff" stroke="#000" stroke-width="1.0"/>
<line x1="570.96" y1="381.81" x2="570.96" y2="397.26" stroke="#000" stroke-width="1.0"/>
<rect x="570.06" y="382.70" width="1.8" height="13.42" fill="#fff" stroke="#000" stroke-width="1.0"/>
<line x1="573.29" y1="370.40" x2="573.29" y2="384.71" stroke="#000" stroke-width="1.0"/>
<rect x="572.39" y="371.80" width="1.8" height="11.18" fill="#fff" stroke="#000" stroke-width="1.0"/>
<line x1="575.62" y1="356.44" x2="575.62" y2="374.89" stroke="#000" stroke-width="1.0"/>
<rect x="574.72" y="356.74" width="1.8" height="15.98" fill="#fff" stroke="#000" stroke-width="1.0"/>
<rect x="577.04" y="356.79" width="1.8" height="1.70" fill="#3070c2" stroke="#3070c2" stroke-width="0.9"/>
<line x1="577.94" y1="352.81" x2="577.94" y2="360.57" stroke="#10305e" stroke-width="0.8" stroke-opacity="0.75"/>
<rect x="579.37" y="358.00" width="1.8" height="24.64" fill="#3070c2" stroke="#3070c2" stroke-width="0.9"/>
<line x1="580.27" y1="357.56" x2="580.27" y2="384.46" stroke="#10305e" stroke-width="0.8" stroke-opacity="0.75"/>
<rect x="581.70" y="383.15" width="1.8" height="2.59" fill="#3070c2" stroke="#3070c2" stroke-width="0.9"/>
<line x1="582.60" y1="381.07" x2="582.60" y2="397.00" stroke="#10305e" stroke-width="0.8" stroke-opacity="0.75"/>
<line x1="584.92" y1="362.69" x2="584.92" y2="388.50" stroke="#000" stroke-width="1.0"/>
<rect x="584.02" y="363.53" width="1.8" height="23.73" fill="#fff" stroke="#000" stroke-width="1.0"/>
<line x1="587.25" y1="356.19" x2="587.25" y2="365.38" stroke="#000" stroke-width="1.0"/>
<rect x="586.35" y="356.54" width="1.8" height="6.03" fill="#fff" stroke="#000" stroke-width="1.0"/>
<line x1="589.58" y1="354.01" x2="589.58" y2="361.61" stroke="#000" stroke-width="1.0"/>
<rect x="588.68" y="357.11" width="1.8" height="2.51" fill="#fff" stroke="#000" stroke-width="1.0"/>
<line x1="591.90" y1="350.12" x2="591.90" y2="360.12" stroke="#000" stroke-width="1.0"/>
<rect x="591.00" y="352.29" width="1.8" height="6.15" fill="#fff" stroke="#000" stroke-width="1.0"/>
<line x1="594.23" y1="337.60" x2="594.23" y2="356.30" stroke="#000" stroke-width="1.0"/>
<rect x="593.33" y="339.08" width="1.8" height="15.56" fill="#fff" stroke="#000" stroke-width="1.0"/>
<rect x="595.66" y="339.30" width="1.8" height="3.84" fill="#3070c2" stroke="#3070c2" stroke-width="0.9"/>
<line x1="596.56" y1="335.63" x2="596.56" y2="343.67" stroke="#10305e" stroke-width="0.8" stroke-opacity="0.75"/>
<line x1="598.88" y1="341.82" x2="598.88" y2="349.54" stroke="#000" stroke-width="1.0"/>
<rect x="597.98" y="341.90" width="1.8" height="4.72" fill="#fff" stroke="#000" stroke-width="1.0"/>
<rect x="600.31" y="344.61" width="1.8" height="5.39" fill="#3070c2" stroke="#3070c2" stroke-width="0.9"/>
<line x1="601.21" y1="342.77" x2="601.21" y2="350.22" stroke="#10305e" stroke-width="0.8" stroke-opacity="0.75"/>
<rect x="602.64" y="348.79" width="1.8" height="8.16" fill="#3070c2" stroke="#3070c2" stroke-width="0.9"/>
<line x1="603.54" y1="346.18" x2="603.54" y2="358.22" stroke="#10305e" stroke-width="0.8" stroke-opacity="0.75"/>
<rect x="604.96" y="356.79" width="1.8" height="6.71" fill="#3070c2" stroke="#3070c2" stroke-width="0.9"/>
<line x1="605.86" y1="355.57" x2="605.86" y2="364.07" stroke="#10305e" stroke-width="0.8" stroke-opacity="0.75"/>
<line x1="608.19" y1="358.05" x2="608.19" y2="364.41" stroke="#000" stroke-width="1.0"/>
<rect x="607.29" y="359.90" width="1.8" height="3.77" fill="#fff" stroke="#000" stroke-width="1.0"/>
<line x1="610.52" y1="350.88" x2="610.52" y2="361.29" stroke="#000" stroke-width="1.0"/>
<rect x="609.62" y="353.04" width="1.8" height="8.13" fill="#fff" stroke="#000" stroke-width="1.0"/>
<line x1="612.84" y1="343.59" x2="612.84" y2="355.16" stroke="#000" stroke-width="1.0"/>
<rect x="611.94" y="344.16" width="1.8" height="10.55" fill="#fff" stroke="#000" stroke-width="1.0"/>
<rect x="614.27" y="342.69" width="1.8" height="1.47" fill="#3070c2" stroke="#3070c2" stroke-width="0.9"/>
<line x1="615.17" y1="341.55" x2="615.17" y2="347.48" stroke="#10305e" stroke-width="0.8" stroke-opacity="0.75"/>
<line x1="617.50" y1="325.61" x2="617.50" y2="344.16" stroke="#000" stroke-width="1.0"/>
<rect x="616.60" y="327.39" width="1.8" height="16.02" fill="#fff" stroke="#000" stroke-width="1.0"/>
<line x1="619.82" y1="314.82" x2="619.82" y2="330.48" stroke="#000" stroke-width="1.0"/>
<rect x="618.92" y="315.78" width="1.8" height="12.70" fill="#fff" stroke="#000" stroke-width="1.0"/>
<line x1="622.15" y1="312.53" x2="622.15" y2="318.07" stroke="#000" stroke-width="1.0"/>
<rect x="621.25" y="314.89" width="1.8" height="2.75" fill="#fff" stroke="#000" stroke-width="1.0"/>
<rect x="623.58" y="313.76" width="1.8" height="3.48" fill="#3070c2" stroke="#3070c2" stroke-width="0.9"/>
<line x1="624.48" y1="313.30" x2="624.48" y2="318.58" stroke="#10305e" stroke-width="0.8" stroke-opacity="0.75"/>
<line x1="626.80" y1="310.61" x2="626.80" y2="318.40" stroke="#000" stroke-width="1.0"/>
<rect x="625.90" y="312.22" width="1.8" height="4.20" fill="#fff" stroke="#000" stroke-width="1.0"/>
<line x1="629.13" y1="308.10" x2="629.13" y2="316.02" stroke="#000" stroke-width="1.0"/>
<rect x="628.23" y="310.14" width="1.8" height="4.79" fill="#fff" stroke="#000" stroke-width="1.0"/>
<rect x="630.56" y="311.46" width="1.8" height="5.30" fill="#3070c2" stroke="#3070c2" stroke-width="0.9"/>
<line x1="631.46" y1="310.44" x2="631.46" y2="318.59" stroke="#10305e" stroke-width="0.8" stroke-opacity="0.75"/>
<rect x="632.88" y="315.15" width="1.8" height="7.75" fill="#3070c2" stroke="#3070c2" stroke-width="0.9"/>
<line x1="633.78" y1="314.01" x2="633.78" y2="323.89" stroke="#10305e" stroke-width="0.8" stroke-opacity="0.75"/>
<rect x="635.21" y="321.08" width="1.8" height="5.65" fill="#3070c2" stroke="#3070c2" stroke-width="0.9"/>
<line x1="636.11" y1="320.37" x2="636.11" y2="328.30" stroke="#10305e" stroke-width="0.8" stroke-opacity="0.75"/>
<rect x="637.54" y="323.53" width="1.8" height="6.58" fill="#3070c2" stroke="#3070c2" stroke-width="0.9"/>
<line x1="638.44" y1="322.44" x2="638.44" y2="331.24" stroke="#10305e" stroke-width="0.8" stroke-opacity="0.75"/>
<line x1="640.76" y1="325.33" x2="640.76" y2="329.46" stroke="#000" stroke-width="1.0"/>
<rect x="639.86" y="325.74" width="1.8" height="3.50" fill="#fff" stroke="#000" stroke-width="1.0"/>
<line x1="643.09" y1="328.31" x2="643.09" y2="331.16" stroke="#000" stroke-width="1.0"/>
<rect x="642.19" y="329.00" width="1.8" height="2.12" fill="#fff" stroke="#000" stroke-width="1.0"/>
<line x1="645.42" y1="320.31" x2="645.42" y2="330.31" stroke="#000" stroke-width="1.0"/>
<rect x="644.52" y="322.22" width="1.8" height="5.80" fill="#fff" stroke="#000" stroke-width="1.0"/>
<line x1="647.74" y1="316.68" x2="647.74" y2="325.40" stroke="#000" stroke-width="1.0"/>
<rect x="646.84" y="316.95" width="1.8" height="7.56" fill="#fff" stroke="#000" stroke-width="1.0"/>
<line x1="650.07" y1="309.36" x2="650.07" y2="319.29" stroke="#000" stroke-width="1.0"/>
<rect x="649.17" y="311.70" width="1.8" height="7.23" fill="#fff" stroke="#000" stroke-width="1.0"/>
<line x1="652.40" y1="309.92" x2="652.40" y2="314.51" stroke="#000" stroke-width="1.0"/>
<rect x="651.50" y="311.40" width="1.8" height="1.66" fill="#fff" stroke="#000" stroke-width="1.0"/>
<line x1="654.72" y1="303.08" x2="654.72" y2="317.52" stroke="#000" stroke-width="1.0"/>
<rect x="653.82" y="304.04" width="1.8" height="11.32" fill="#fff" stroke="#000" stroke-width="1.0"/>
<line x1="657.05" y1="296.43" x2="657.05" y2="307.62" stroke="#000" stroke-width="1.0"/>
<rect x="656.15" y="297.57" width="1.8" height="7.95" fill="#fff" stroke="#000" stroke-width="1.0"/>
<line x1="659.38" y1="295.08" x2="659.38" y2="301.51" stroke="#000" stroke-width="1.0"/>
<rect x="658.48" y="296.25" width="1.8" height="5.11" fill="#fff" stroke="#000" stroke-width="1.0"/>
<line x1="661.70" y1="294.56" x2="661.70" y2="300.32" stroke="#000" stroke-width="1.0"/>
<rect x="660.80" y="296.26" width="1.8" height="2.00" fill="#fff" stroke="#000" stroke-width="1.0"/>
<rect x="663.13" y="294.14" width="1.8" height="1.54" fill="#3070c2" stroke="#3070c2" stroke-width="0.9"/>
<line x1="664.03" y1="292.73" x2="664.03" y2="297.20" stroke="#10305e" stroke-width="0.8" stroke-opacity="0.75"/>
<rect x="665.46" y="294.89" width="1.8" height="4.81" fill="#3070c2" stroke="#3070c2" stroke-width="0.9"/>
<line x1="666.36" y1="294.34" x2="666.36" y2="300.85" stroke="#10305e" stroke-width="0.8" stroke-opacity="0.75"/>
<rect x="667.78" y="297.28" width="1.8" height="6.89" fill="#3070c2" stroke="#3070c2" stroke-width="0.9"/>
<line x1="668.68" y1="297.02" x2="668.68" y2="305.48" stroke="#10305e" stroke-width="0.8" stroke-opacity="0.75"/>
<rect x="670.11" y="302.86" width="1.8" height="3.14" fill="#3070c2" stroke="#3070c2" stroke-width="0.9"/>
<line x1="671.01" y1="302.21" x2="671.01" y2="306.27" stroke="#10305e" stroke-width="0.8" stroke-opacity="0.75"/>
<rect x="672.44" y="305.64" width="1.8" height="2.41" fill="#3070c2" stroke="#3070c2" stroke-width="0.9"/>
<line x1="673.34" y1="305.37" x2="673.34" y2="309.26" stroke="#10305e" stroke-width="0.8" stroke-opacity="0.75"/>
<line x1="675.66" y1="303.21" x2="675.66" y2="309.11" stroke="#000" stroke-width="1.0"/>
<rect x="674.76" y="304.78" width="1.8" height="3.32" fill="#fff" stroke="#000" stroke-width="1.0"/>
<line x1="677.99" y1="304.15" x2="677.99" y2="307.68" stroke="#000" stroke-width="1.0"/>
<rect x="677.09" y="304.64" width="1.8" height="1.18" fill="#fff" stroke="#000" stroke-width="1.0"/>
<line x1="680.32" y1="301.85" x2="680.32" y2="306.93" stroke="#000" stroke-width="1.0"/>
<rect x="679.42" y="302.63" width="1.8" height="3.07" fill="#fff" stroke="#000" stroke-width="1.0"/>
<rect x="681.74" y="297.97" width="1.8" height="4.76" fill="#3070c2" stroke="#3070c2" stroke-width="0.9"/>
<line x1="682.64" y1="297.62" x2="682.64" y2="302.87" stroke="#10305e" stroke-width="0.8" stroke-opacity="0.75"/>
<line x1="684.97" y1="291.06" x2="684.97" y2="299.72" stroke="#000" stroke-width="1.0"/>
<rect x="684.07" y="292.68" width="1.8" height="6.80" fill="#fff" stroke="#000" stroke-width="1.0"/>
<rect x="686.40" y="293.25" width="1.8" height="1.31" fill="#3070c2" stroke="#3070c2" stroke-width="0.9"/>
<line x1="687.30" y1="290.68" x2="687.30" y2="296.05" stroke="#10305e" stroke-width="0.8" stroke-opacity="0.75"/>
<line x1="689.62" y1="279.66" x2="689.62" y2="293.12" stroke="#000" stroke-width="1.0"/>
<rect x="688.72" y="281.29" width="1.8" height="9.96" fill="#fff" stroke="#000" stroke-width="1.0"/>
<line x1="691.95" y1="247.85" x2="691.95" y2="283.02" stroke="#000" stroke-width="1.0"/>
<rect x="691.05" y="249.77" width="1.8" height="32.02" fill="#fff" stroke="#000" stroke-width="1.0"/>
<rect x="693.38" y="249.59" width="1.8" height="8.61" fill="#3070c2" stroke="#3070c2" stroke-width="0.9"/>
<line x1="694.28" y1="248.67" x2="694.28" y2="260.24" stroke="#10305e" stroke-width="0.8" stroke-opacity="0.75"/>
<rect x="695.70" y="258.69" width="1.8" height="7.09" fill="#3070c2" stroke="#3070c2" stroke-width="0.9"/>
<line x1="696.60" y1="256.92" x2="696.60" y2="270.64" stroke="#10305e" stroke-width="0.8" stroke-opacity="0.75"/>
<line x1="698.93" y1="248.12" x2="698.93" y2="267.31" stroke="#000" stroke-width="1.0"/>
<rect x="698.03" y="250.21" width="1.8" height="16.00" fill="#fff" stroke="#000" stroke-width="1.0"/>
<line x1="701.26" y1="239.53" x2="701.26" y2="250.45" stroke="#000" stroke-width="1.0"/>
<rect x="700.36" y="240.81" width="1.8" height="9.44" fill="#fff" stroke="#000" stroke-width="1.0"/>
<line x1="703.58" y1="235.84" x2="703.58" y2="243.63" stroke="#000" stroke-width="1.0"/>
<rect x="702.68" y="236.29" width="1.8" height="6.40" fill="#fff" stroke="#000" stroke-width="1.0"/>
<line x1="705.91" y1="229.88" x2="705.91" y2="240.17" stroke="#000" stroke-width="1.0"/>
<rect x="705.01" y="231.90" width="1.8" height="6.57" fill="#fff" stroke="#000" stroke-width="1.0"/>
<line x1="708.24" y1="199.55" x2="708.24" y2="233.49" stroke="#000" stroke-width="1.0"/>
<rect x="707.34" y="200.40" width="1.8" height="30.41" fill="#fff" stroke="#000" stroke-width="1.0"/>
<rect x="709.66" y="200.27" width="1.8" height="7.05" fill="#3070c2" stroke="#3070c2" stroke-width="0.9"/>
<line x1="710.56" y1="199.78" x2="710.56" y2="208.14" stroke="#10305e" stroke-width="0.8" stroke-opacity="0.75"/>
<line x1="712.89" y1="200.57" x2="712.89" y2="213.47" stroke="#000" stroke-width="1.0"/>
<rect x="711.99" y="201.64" width="1.8" height="5.83" fill="#fff" stroke="#000" stroke-width="1.0"/>
<line x1="715.22" y1="188.85" x2="715.22" y2="202.89" stroke="#000" stroke-width="1.0"/>
<rect x="714.32" y="189.22" width="1.8" height="12.13" fill="#fff" stroke="#000" stroke-width="1.0"/>
<line x1="717.54" y1="172.41" x2="717.54" y2="196.24" stroke="#000" stroke-width="1.0"/>
<rect x="716.64" y="173.93" width="1.8" height="20.51" fill="#fff" stroke="#000" stroke-width="1.0"/>
<rect x="718.97" y="175.74" width="1.8" height="6.22" fill="#3070c2" stroke="#3070c2" stroke-width="0.9"/>
<line x1="719.87" y1="168.87" x2="719.87" y2="183.08" stroke="#10305e" stroke-width="0.8" stroke-opacity="0.75"/>
<rect x="721.30" y="181.10" width="1.8" height="11.12" fill="#3070c2" stroke="#3070c2" stroke-width="0.9"/>
<line x1="722.20" y1="178.91" x2="722.20" y2="193.62" stroke="#10305e" stroke-width="0.8" stroke-opacity="0.75"/>
<rect x="723.62" y="191.69" width="1.8" height="5.13" fill="#3070c2" stroke="#3070c2" stroke-width="0.9"/>
<line x1="724.52" y1="191.28" x2="724.52" y2="200.67" stroke="#10305e" stroke-width="0.8" stroke-opacity="0.75"/>
<line x1="726.85" y1="186.28" x2="726.85" y2="197.51" stroke="#000" stroke-width="1.0"/>
<rect x="725.95" y="190.22" width="1.8" height="6.71" fill="#fff" stroke="#000" stroke-width="1.0"/>
<rect x="728.28" y="190.02" width="1.8" height="10.86" fill="#3070c2" stroke="#3070c2" stroke-width="0.9"/>
<line x1="729.18" y1="189.76" x2="729.18" y2="201.48" stroke="#10305e" stroke-width="0.8" stroke-opacity="0.75"/>
<rect x="730.60" y="200.94" width="1.8" height="3.80" fill="#3070c2" stroke="#3070c2" stroke-width="0.9"/>
<line x1="731.50" y1="199.13" x2="731.50" y2="207.35" stroke="#10305e" stroke-width="0.8" stroke-opacity="0.75"/>
<line x1="733.83" y1="194.30" x2="733.83" y2="205.74" stroke="#000" stroke-width="1.0"/>
<rect x="732.93" y="195.87" width="1.8" height="9.09" fill="#fff" stroke="#000" stroke-width="1.0"/>
<line x1="736.16" y1="185.88" x2="736.16" y2="199.19" stroke="#000" stroke-width="1.0"/>
<rect x="735.26" y="186.65" width="1.8" height="11.55" fill="#fff" stroke="#000" stroke-width="1.0"/>
<line x1="738.48" y1="182.40" x2="738.48" y2="189.69" stroke="#000" stroke-width="1.0"/>
<rect x="737.58" y="183.37" width="1.8" height="4.95" fill="#fff" stroke="#000" stroke-width="1.0"/>
<rect x="739.91" y="182.84" width="1.8" height="15.60" fill="#3070c2" stroke="#3070c2" stroke-width="0.9"/>
<line x1="740.81" y1="180.52" x2="740.81" y2="200.24" stroke="#10305e" stroke-width="0.8" stroke-opacity="0.75"/>
<rect x="742.24" y="196.79" width="1.8" height="28.28" fill="#3070c2" stroke="#3070c2" stroke-width="0.9"/>
<line x1="743.14" y1="196.25" x2="743.14" y2="225.92" stroke="#10305e" stroke-width="0.8" stroke-opacity="0.75"/>
<line x1="745.46" y1="203.91" x2="745.46" y2="223.86" stroke="#000" stroke-width="1.0"/>
<rect x="744.56" y="205.66" width="1.8" height="17.67" fill="#fff" stroke="#000" stroke-width="1.0"/>
<line x1="747.79" y1="198.76" x2="747.79" y2="208.33" stroke="#000" stroke-width="1.0"/>
<rect x="746.89" y="204.61" width="1.8" height="3.47" fill="#fff" stroke="#000" stroke-width="1.0"/>
<rect x="749.22" y="204.35" width="1.8" height="12.33" fill="#3070c2" stroke="#3070c2" stroke-width="0.9"/>
<line x1="750.12" y1="202.53" x2="750.12" y2="217.46" stroke="#10305e" stroke-width="0.8" stroke-opacity="0.75"/>
<line x1="752.44" y1="214.93" x2="752.44" y2="221.75" stroke="#000" stroke-width="1.0"/>
<rect x="751.54" y="216.39" width="1.8" height="1.37" fill="#fff" stroke="#000" stroke-width="1.0"/>
<line x1="754.77" y1="212.11" x2="754.77" y2="219.95" stroke="#000" stroke-width="1.0"/>
<rect x="753.87" y="213.08" width="1.8" height="5.90" fill="#fff" stroke="#000" stroke-width="1.0"/>
<line x1="757.10" y1="206.76" x2="757.10" y2="216.18" stroke="#000" stroke-width="1.0"/>
<rect x="756.20" y="207.59" width="1.8" height="6.49" fill="#fff" stroke="#000" stroke-width="1.0"/>
<line x1="759.42" y1="204.61" x2="759.42" y2="211.94" stroke="#000" stroke-width="1.0"/>
<rect x="758.52" y="206.50" width="1.8" height="3.88" fill="#fff" stroke="#000" stroke-width="1.0"/>
<line x1="761.75" y1="198.04" x2="761.75" y2="205.57" stroke="#000" stroke-width="1.0"/>
<rect x="760.85" y="200.61" width="1.8" height="4.50" fill="#fff" stroke="#000" stroke-width="1.0"/>
<line x1="764.08" y1="171.53" x2="764.08" y2="200.86" stroke="#000" stroke-width="1.0"/>
<rect x="763.18" y="173.23" width="1.8" height="26.78" fill="#fff" stroke="#000" stroke-width="1.0"/>
<line x1="766.40" y1="159.73" x2="766.40" y2="176.10" stroke="#000" stroke-width="1.0"/>
<rect x="765.50" y="160.12" width="1.8" height="13.65" fill="#fff" stroke="#000" stroke-width="1.0"/>
<line x1="768.73" y1="153.34" x2="768.73" y2="162.14" stroke="#000" stroke-width="1.0"/>
<rect x="767.83" y="154.78" width="1.8" height="6.67" fill="#fff" stroke="#000" stroke-width="1.0"/>
<line x1="771.06" y1="149.38" x2="771.06" y2="156.89" stroke="#000" stroke-width="1.0"/>
<rect x="770.16" y="154.34" width="1.8" height="1.66" fill="#fff" stroke="#000" stroke-width="1.0"/>
<rect x="772.48" y="154.27" width="1.8" height="6.04" fill="#3070c2" stroke="#3070c2" stroke-width="0.9"/>
<line x1="773.38" y1="153.62" x2="773.38" y2="160.95" stroke="#10305e" stroke-width="0.8" stroke-opacity="0.75"/>
<line x1="775.71" y1="155.09" x2="775.71" y2="163.05" stroke="#000" stroke-width="1.0"/>
<rect x="774.81" y="156.63" width="1.8" height="4.60" fill="#fff" stroke="#000" stroke-width="1.0"/>
<line x1="778.04" y1="143.25" x2="778.04" y2="160.43" stroke="#000" stroke-width="1.0"/>
<rect x="777.14" y="145.25" width="1.8" height="13.56" fill="#fff" stroke="#000" stroke-width="1.0"/>
<line x1="780.36" y1="140.12" x2="780.36" y2="147.14" stroke="#000" stroke-width="1.0"/>
<rect x="779.46" y="140.78" width="1.8" height="5.52" fill="#fff" stroke="#000" stroke-width="1.0"/>
<rect x="781.79" y="141.65" width="1.8" height="2.68" fill="#3070c2" stroke="#3070c2" stroke-width="0.9"/>
<line x1="782.69" y1="139.96" x2="782.69" y2="145.91" stroke="#10305e" stroke-width="0.8" stroke-opacity="0.75"/>
<rect x="784.12" y="142.59" width="1.8" height="8.30" fill="#3070c2" stroke="#3070c2" stroke-width="0.9"/>
<line x1="785.02" y1="140.76" x2="785.02" y2="152.60" stroke="#10305e" stroke-width="0.8" stroke-opacity="0.75"/>
<rect x="786.44" y="149.20" width="1.8" height="6.56" fill="#3070c2" stroke="#3070c2" stroke-width="0.9"/>
<line x1="787.34" y1="148.66" x2="787.34" y2="156.01" stroke="#10305e" stroke-width="0.8" stroke-opacity="0.75"/>
<rect x="788.77" y="154.64" width="1.8" height="5.23" fill="#3070c2" stroke="#3070c2" stroke-width="0.9"/>
<line x1="789.67" y1="153.11" x2="789.67" y2="161.15" stroke="#10305e" stroke-width="0.8" stroke-opacity="0.75"/>
<rect x="791.10" y="160.14" width="1.8" height="3.75" fill="#3070c2" stroke="#3070c2" stroke-width="0.9"/>
<line x1="792.00" y1="159.21" x2="792.00" y2="166.21" stroke="#10305e" stroke-width="0.8" stroke-opacity="0.75"/>
<rect x="793.42" y="162.88" width="1.8" height="5.85" fill="#3070c2" stroke="#3070c2" stroke-width="0.9"/>
<line x1="794.32" y1="162.76" x2="794.32" y2="171.54" stroke="#10305e" stroke-width="0.8" stroke-opacity="0.75"/>
<rect x="795.75" y="168.33" width="1.8" height="4.71" fill="#3070c2" stroke="#3070c2" stroke-width="0.9"/>
<line x1="796.65" y1="167.40" x2="796.65" y2="174.59" stroke="#10305e" stroke-width="0.8" stroke-opacity="0.75"/>
<rect x="798.08" y="170.59" width="1.8" height="16.77" fill="#3070c2" stroke="#3070c2" stroke-width="0.9"/>
<line x1="798.98" y1="169.40" x2="798.98" y2="187.92" stroke="#10305e" stroke-width="0.8" stroke-opacity="0.75"/>
<line x1="801.30" y1="171.23" x2="801.30" y2="193.56" stroke="#000" stroke-width="1.0"/>
<rect x="800.40" y="171.55" width="1.8" height="16.68" fill="#fff" stroke="#000" stroke-width="1.0"/>
<line x1="803.63" y1="160.88" x2="803.63" y2="172.60" stroke="#000" stroke-width="1.0"/>
<rect x="802.73" y="162.94" width="1.8" height="8.89" fill="#fff" stroke="#000" stroke-width="1.0"/>
<rect x="805.06" y="162.89" width="1.8" height="13.91" fill="#3070c2" stroke="#3070c2" stroke-width="0.9"/>
<line x1="805.96" y1="161.10" x2="805.96" y2="178.01" stroke="#10305e" stroke-width="0.8" stroke-opacity="0.75"/>
<line x1="808.28" y1="166.86" x2="808.28" y2="177.25" stroke="#000" stroke-width="1.0"/>
<rect x="807.38" y="168.54" width="1.8" height="6.87" fill="#fff" stroke="#000" stroke-width="1.0"/>
<rect x="809.71" y="170.04" width="1.8" height="12.66" fill="#3070c2" stroke="#3070c2" stroke-width="0.9"/>
<line x1="810.61" y1="168.13" x2="810.61" y2="183.14" stroke="#10305e" stroke-width="0.8" stroke-opacity="0.75"/>
<rect x="812.04" y="181.51" width="1.8" height="5.18" fill="#3070c2" stroke="#3070c2" stroke-width="0.9"/>
<line x1="812.94" y1="180.71" x2="812.94" y2="192.37" stroke="#10305e" stroke-width="0.8" stroke-opacity="0.75"/>
<line x1="815.26" y1="173.34" x2="815.26" y2="189.28" stroke="#000" stroke-width="1.0"/>
<rect x="814.36" y="174.91" width="1.8" height="12.21" fill="#fff" stroke="#000" stroke-width="1.0"/>
<line x1="817.59" y1="163.98" x2="817.59" y2="175.86" stroke="#000" stroke-width="1.0"/>
<rect x="816.69" y="165.18" width="1.8" height="10.55" fill="#fff" stroke="#000" stroke-width="1.0"/>
<line x1="819.92" y1="160.77" x2="819.92" y2="168.29" stroke="#000" stroke-width="1.0"/>
<rect x="819.02" y="161.33" width="1.8" height="6.42" fill="#fff" stroke="#000" stroke-width="1.0"/>
<line x1="822.24" y1="158.95" x2="822.24" y2="165.01" stroke="#000" stroke-width="1.0"/>
<rect x="821.34" y="159.36" width="1.8" height="4.25" fill="#fff" stroke="#000" stroke-width="1.0"/>
<line x1="824.57" y1="153.47" x2="824.57" y2="163.14" stroke="#000" stroke-width="1.0"/>
<rect x="823.67" y="155.11" width="1.8" height="7.32" fill="#fff" stroke="#000" stroke-width="1.0"/>
<rect x="826.00" y="157.75" width="1.8" height="10.78" fill="#3070c2" stroke="#3070c2" stroke-width="0.9"/>
<line x1="826.90" y1="155.19" x2="826.90" y2="170.36" stroke="#10305e" stroke-width="0.8" stroke-opacity="0.75"/>
<rect x="828.32" y="165.64" width="1.8" height="20.92" fill="#3070c2" stroke="#3070c2" stroke-width="0.9"/>
<line x1="829.22" y1="164.09" x2="829.22" y2="189.99" stroke="#10305e" stroke-width="0.8" stroke-opacity="0.75"/>
<line x1="831.55" y1="167.69" x2="831.55" y2="186.71" stroke="#000" stroke-width="1.0"/>
<rect x="830.65" y="168.97" width="1.8" height="17.56" fill="#fff" stroke="#000" stroke-width="1.0"/>
<line x1="833.88" y1="129.91" x2="833.88" y2="170.46" stroke="#000" stroke-width="1.0"/>
<rect x="832.98" y="134.88" width="1.8" height="34.55" fill="#fff" stroke="#000" stroke-width="1.0"/>
<rect x="835.30" y="135.95" width="1.8" height="8.95" fill="#3070c2" stroke="#3070c2" stroke-width="0.9"/>
<line x1="836.20" y1="134.22" x2="836.20" y2="145.94" stroke="#10305e" stroke-width="0.8" stroke-opacity="0.75"/>
<line x1="838.53" y1="138.00" x2="838.53" y2="144.25" stroke="#000" stroke-width="1.0"/>
<rect x="837.63" y="139.57" width="1.8" height="3.21" fill="#fff" stroke="#000" stroke-width="1.0"/>
<rect x="839.96" y="139.38" width="1.8" height="6.16" fill="#3070c2" stroke="#3070c2" stroke-width="0.9"/>
<line x1="840.86" y1="136.26" x2="840.86" y2="147.27" stroke="#10305e" stroke-width="0.8" stroke-opacity="0.75"/>
<line x1="843.18" y1="115.50" x2="843.18" y2="149.90" stroke="#000" stroke-width="1.0"/>
<rect x="842.28" y="119.06" width="1.8" height="28.82" fill="#fff" stroke="#000" stroke-width="1.0"/>
<rect x="844.61" y="120.30" width="1.8" height="18.22" fill="#3070c2" stroke="#3070c2" stroke-width="0.9"/>
<line x1="845.51" y1="117.85" x2="845.51" y2="140.12" stroke="#10305e" stroke-width="0.8" stroke-opacity="0.75"/>
<rect x="846.94" y="137.85" width="1.8" height="5.42" fill="#3070c2" stroke="#3070c2" stroke-width="0.9"/>
<line x1="847.84" y1="137.19" x2="847.84" y2="144.51" stroke="#10305e" stroke-width="0.8" stroke-opacity="0.75"/>
<line x1="850.16" y1="113.86" x2="850.16" y2="143.61" stroke="#000" stroke-width="1.0"/>
<rect x="849.26" y="114.05" width="1.8" height="28.10" fill="#fff" stroke="#000" stroke-width="1.0"/>
<line x1="852.49" y1="94.19" x2="852.49" y2="115.31" stroke="#000" stroke-width="1.0"/>
<rect x="851.59" y="95.13" width="1.8" height="19.93" fill="#fff" stroke="#000" stroke-width="1.0"/>
<line x1="854.82" y1="66.61" x2="854.82" y2="97.10" stroke="#000" stroke-width="1.0"/>
<rect x="853.92" y="68.54" width="1.8" height="28.35" fill="#fff" stroke="#000" stroke-width="1.0"/>
<line x1="857.14" y1="63.05" x2="857.14" y2="67.41" stroke="#000" stroke-width="1.0"/>
<rect x="856.24" y="64.31" width="1.8" height="2.56" fill="#fff" stroke="#000" stroke-width="1.0"/>
<rect x="858.57" y="63.55" width="1.8" height="9.34" fill="#3070c2" stroke="#3070c2" stroke-width="0.9"/>
<line x1="859.47" y1="62.58" x2="859.47" y2="74.79" stroke="#10305e" stroke-width="0.8" stroke-opacity="0.75"/>
<rect x="860.90" y="71.53" width="1.8" height="7.24" fill="#3070c2" stroke="#3070c2" stroke-width="0.9"/>
<line x1="861.80" y1="69.94" x2="861.80" y2="78.99" stroke="#10305e" stroke-width="0.8" stroke-opacity="0.75"/>
<line x1="864.12" y1="75.31" x2="864.12" y2="81.30" stroke="#000" stroke-width="1.0"/>
<rect x="863.22" y="77.01" width="1.8" height="3.62" fill="#fff" stroke="#000" stroke-width="1.0"/>
<line x1="866.45" y1="76.03" x2="866.45" y2="81.13" stroke="#000" stroke-width="1.0"/>
<rect x="865.55" y="77.34" width="1.8" height="3.33" fill="#fff" stroke="#000" stroke-width="1.0"/>
<line x1="868.78" y1="58.01" x2="868.78" y2="79.75" stroke="#000" stroke-width="1.0"/>
<rect x="867.88" y="59.96" width="1.8" height="18.55" fill="#fff" stroke="#000" stroke-width="1.0"/>
<line x1="871.10" y1="49.64" x2="871.10" y2="63.27" stroke="#000" stroke-width="1.0"/>
<rect x="870.20" y="51.32" width="1.8" height="10.46" fill="#fff" stroke="#000" stroke-width="1.0"/>
<line x1="873.43" y1="39.41" x2="873.43" y2="54.60" stroke="#000" stroke-width="1.0"/>
<rect x="872.53" y="41.83" width="1.8" height="12.68" fill="#fff" stroke="#000" stroke-width="1.0"/>
<rect x="874.86" y="41.82" width="1.8" height="7.28" fill="#3070c2" stroke="#3070c2" stroke-width="0.9"/>
<line x1="875.76" y1="39.78" x2="875.76" y2="52.49" stroke="#10305e" stroke-width="0.8" stroke-opacity="0.75"/>
<line x1="878.08" y1="43.30" x2="878.08" y2="49.96" stroke="#000" stroke-width="1.0"/>
<rect x="877.18" y="43.55" width="1.8" height="6.36" fill="#fff" stroke="#000" stroke-width="1.0"/>
<rect x="879.51" y="44.50" width="1.8" height="11.35" fill="#3070c2" stroke="#3070c2" stroke-width="0.9"/>
<line x1="880.41" y1="42.61" x2="880.41" y2="56.69" stroke="#10305e" stroke-width="0.8" stroke-opacity="0.75"/>
<rect x="881.84" y="54.66" width="1.8" height="13.50" fill="#3070c2" stroke="#3070c2" stroke-width="0.9"/>
<line x1="882.74" y1="52.47" x2="882.74" y2="68.20" stroke="#10305e" stroke-width="0.8" stroke-opacity="0.75"/>
<rect x="884.16" y="64.44" width="1.8" height="10.99" fill="#3070c2" stroke="#3070c2" stroke-width="0.9"/>
<line x1="885.06" y1="64.37" x2="885.06" y2="75.84" stroke="#10305e" stroke-width="0.8" stroke-opacity="0.75"/>
<rect x="886.49" y="73.90" width="1.8" height="5.65" fill="#3070c2" stroke="#3070c2" stroke-width="0.9"/>
<line x1="887.39" y1="72.04" x2="887.39" y2="82.87" stroke="#10305e" stroke-width="0.8" stroke-opacity="0.75"/>
<line x1="889.72" y1="69.88" x2="889.72" y2="82.78" stroke="#000" stroke-width="1.0"/>
<rect x="888.82" y="71.85" width="1.8" height="9.64" fill="#fff" stroke="#000" stroke-width="1.0"/>
<line x1="892.04" y1="67.08" x2="892.04" y2="75.06" stroke="#000" stroke-width="1.0"/>
<rect x="891.14" y="67.94" width="1.8" height="6.35" fill="#fff" stroke="#000" stroke-width="1.0"/>
<line x1="894.37" y1="65.33" x2="894.37" y2="70.16" stroke="#000" stroke-width="1.0"/>
<rect x="893.47" y="69.38" width="1.8" height="0.70" fill="#fff" stroke="#000" stroke-width="1.0"/>
<line x1="896.70" y1="68.79" x2="896.70" y2="72.58" stroke="#000" stroke-width="1.0"/>
<rect x="895.80" y="69.74" width="1.8" height="1.59" fill="#fff" stroke="#000" stroke-width="1.0"/>
<rect x="898.12" y="67.71" width="1.8" height="1.73" fill="#3070c2" stroke="#3070c2" stroke-width="0.9"/>
<line x1="899.02" y1="64.30" x2="899.02" y2="71.65" stroke="#10305e" stroke-width="0.8" stroke-opacity="0.75"/>
<rect x="900.45" y="68.77" width="1.8" height="5.97" fill="#3070c2" stroke="#3070c2" stroke-width="0.9"/>
<line x1="901.35" y1="67.02" x2="901.35" y2="81.92" stroke="#10305e" stroke-width="0.8" stroke-opacity="0.75"/>
<line x1="903.68" y1="68.88" x2="903.68" y2="78.98" stroke="#000" stroke-width="1.0"/>
<rect x="902.78" y="71.52" width="1.8" height="6.06" fill="#fff" stroke="#000" stroke-width="1.0"/>
<line x1="906.00" y1="68.63" x2="906.00" y2="80.92" stroke="#000" stroke-width="1.0"/>
<rect x="905.10" y="70.08" width="1.8" height="2.73" fill="#fff" stroke="#000" stroke-width="1.0"/>
<line x1="908.33" y1="55.05" x2="908.33" y2="69.35" stroke="#000" stroke-width="1.0"/>
<rect x="907.43" y="55.35" width="1.8" height="13.68" fill="#fff" stroke="#000" stroke-width="1.0"/>
<line x1="910.66" y1="45.89" x2="910.66" y2="56.71" stroke="#000" stroke-width="1.0"/>
<rect x="909.76" y="46.26" width="1.8" height="10.31" fill="#fff" stroke="#000" stroke-width="1.0"/>
<rect x="912.08" y="46.70" width="1.8" height="7.40" fill="#3070c2" stroke="#3070c2" stroke-width="0.9"/>
<line x1="912.98" y1="40.25" x2="912.98" y2="56.13" stroke="#10305e" stroke-width="0.8" stroke-opacity="0.75"/>
<rect x="914.41" y="51.19" width="1.8" height="37.77" fill="#3070c2" stroke="#3070c2" stroke-width="0.9"/>
<line x1="915.31" y1="50.41" x2="915.31" y2="90.66" stroke="#10305e" stroke-width="0.8" stroke-opacity="0.75"/>
<rect x="916.74" y="85.76" width="1.8" height="25.20" fill="#3070c2" stroke="#3070c2" stroke-width="0.9"/>
<line x1="917.64" y1="85.15" x2="917.64" y2="111.53" stroke="#10305e" stroke-width="0.8" stroke-opacity="0.75"/>
<line x1="919.96" y1="99.03" x2="919.96" y2="110.29" stroke="#000" stroke-width="1.0"/>
<rect x="919.06" y="99.91" width="1.8" height="9.94" fill="#fff" stroke="#000" stroke-width="1.0"/>
<line x1="922.29" y1="88.14" x2="922.29" y2="102.08" stroke="#000" stroke-width="1.0"/>
<rect x="921.39" y="90.26" width="1.8" height="10.17" fill="#fff" stroke="#000" stroke-width="1.0"/>
<line x1="924.62" y1="85.46" x2="924.62" y2="94.12" stroke="#000" stroke-width="1.0"/>
<rect x="923.72" y="86.13" width="1.8" height="6.81" fill="#fff" stroke="#000" stroke-width="1.0"/>
<line x1="926.94" y1="68.91" x2="926.94" y2="88.54" stroke="#000" stroke-width="1.0"/>
<rect x="926.04" y="70.56" width="1.8" height="16.55" fill="#fff" stroke="#000" stroke-width="1.0"/>
<rect x="928.37" y="70.57" width="1.8" height="5.68" fill="#3070c2" stroke="#3070c2" stroke-width="0.9"/>
<line x1="929.27" y1="65.90" x2="929.27" y2="77.62" stroke="#10305e" stroke-width="0.8" stroke-opacity="0.75"/>
<rect x="930.70" y="74.22" width="1.8" height="8.33" fill="#3070c2" stroke="#3070c2" stroke-width="0.9"/>
<line x1="931.60" y1="74.19" x2="931.60" y2="84.59" stroke="#10305e" stroke-width="0.8" stroke-opacity="0.75"/>
<rect x="933.02" y="78.17" width="1.8" height="7.19" fill="#3070c2" stroke="#3070c2" stroke-width="0.9"/>
<line x1="933.92" y1="77.44" x2="933.92" y2="85.57" stroke="#10305e" stroke-width="0.8" stroke-opacity="0.75"/>
<line x1="936.60" y1="86.00" x2="936.60" y2="106.50" stroke="#000" stroke-width="1.0"/>
<rect x="935.70" y="87.00" width="1.8" height="14.00" fill="#fff" stroke="#000" stroke-width="1.0"/>
</g>
<circle cx="545.2" cy="417.4" r="4.1" fill="#6cc04f"/>
<line x1="545.2" y1="417.4" x2="892.80" y2="55.38" stroke="#6cc04f" stroke-width="5.0" stroke-dasharray="14 4.1"/>
<polygon points="901.8,46.0 885.6,52.8 896.4,62.6" fill="#6cc04f"/>
<line x1="966.5" y1="0" x2="966.5" y2="552.8000000000001" stroke="#222" stroke-width="1.2"/>
<line x1="0" y1="552.2" x2="967.1" y2="552.2" stroke="#222" stroke-width="1.2"/>
<polygon points="966.5,75.80 973.5,78.30 966.5,80.80" fill="#111"/>
<text x="975" y="83.10" font-size="12.4" fill="#3c3c3c" textLength="25" lengthAdjust="spacingAndGlyphs">3600</text>
<polygon points="966.5,177.80 973.5,180.30 966.5,182.80" fill="#111"/>
<text x="975" y="185.10" font-size="12.4" fill="#3c3c3c" textLength="25" lengthAdjust="spacingAndGlyphs">3400</text>
<polygon points="966.5,280.30 973.5,282.80 966.5,285.30" fill="#111"/>
<text x="975" y="287.60" font-size="12.4" fill="#3c3c3c" textLength="25" lengthAdjust="spacingAndGlyphs">3200</text>
<polygon points="966.5,382.30 973.5,384.80 966.5,387.30" fill="#111"/>
<text x="975" y="389.60" font-size="12.4" fill="#3c3c3c" textLength="25" lengthAdjust="spacingAndGlyphs">3000</text>
<polygon points="966.5,484.30 973.5,486.80 966.5,489.30" fill="#111"/>
<text x="975" y="491.60" font-size="12.4" fill="#3c3c3c" textLength="25" lengthAdjust="spacingAndGlyphs">2800</text>
<line x1="966.5" y1="27.45" x2="969.7" y2="27.45" stroke="#222" stroke-width="1"/>
<line x1="966.5" y1="129.55" x2="969.7" y2="129.55" stroke="#222" stroke-width="1"/>
<line x1="966.5" y1="231.65" x2="969.7" y2="231.65" stroke="#222" stroke-width="1"/>
<line x1="966.5" y1="333.75" x2="969.7" y2="333.75" stroke="#222" stroke-width="1"/>
<line x1="966.5" y1="435.85" x2="969.7" y2="435.85" stroke="#222" stroke-width="1"/>
<line x1="966.5" y1="537.95" x2="969.7" y2="537.95" stroke="#222" stroke-width="1"/>
<polygon points="968.2,86.6 972.6,79 1024,79 1024,94.3 972.6,94.3" fill="#0a0a0a"/>
<text x="974.3" y="91.5" font-size="12.4" fill="#f4f4f4" textLength="48.4" lengthAdjust="spacingAndGlyphs">3583.725</text>
<line x1="60.28" y1="552.2" x2="60.28" y2="555.6" stroke="#333" stroke-width="1"/>
<line x1="78.89" y1="552.2" x2="78.89" y2="555.6" stroke="#333" stroke-width="1"/>
<rect x="96.50" y="551.8000000000001" width="2" height="3.8" fill="#111"/>
<line x1="116.11" y1="552.2" x2="116.11" y2="555.6" stroke="#333" stroke-width="1"/>
<line x1="134.72" y1="552.2" x2="134.72" y2="555.6" stroke="#333" stroke-width="1"/>
<line x1="153.34" y1="552.2" x2="153.34" y2="555.6" stroke="#333" stroke-width="1"/>
<line x1="171.95" y1="552.2" x2="171.95" y2="555.6" stroke="#333" stroke-width="1"/>
<line x1="190.56" y1="552.2" x2="190.56" y2="555.6" stroke="#333" stroke-width="1"/>
<rect x="208.50" y="551.8000000000001" width="2" height="3.8" fill="#111"/>
<line x1="228.11" y1="552.2" x2="228.11" y2="555.6" stroke="#333" stroke-width="1"/>
<line x1="246.72" y1="552.2" x2="246.72" y2="555.6" stroke="#333" stroke-width="1"/>
<line x1="265.33" y1="552.2" x2="265.33" y2="555.6" stroke="#333" stroke-width="1"/>
<line x1="283.95" y1="552.2" x2="283.95" y2="555.6" stroke="#333" stroke-width="1"/>
<line x1="302.56" y1="552.2" x2="302.56" y2="555.6" stroke="#333" stroke-width="1"/>
<rect x="319.50" y="551.8000000000001" width="2" height="3.8" fill="#111"/>
<line x1="339.11" y1="552.2" x2="339.11" y2="555.6" stroke="#333" stroke-width="1"/>
<line x1="357.72" y1="552.2" x2="357.72" y2="555.6" stroke="#333" stroke-width="1"/>
<line x1="376.33" y1="552.2" x2="376.33" y2="555.6" stroke="#333" stroke-width="1"/>
<line x1="394.95" y1="552.2" x2="394.95" y2="555.6" stroke="#333" stroke-width="1"/>
<line x1="413.56" y1="552.2" x2="413.56" y2="555.6" stroke="#333" stroke-width="1"/>
<rect x="431.50" y="551.8000000000001" width="2" height="3.8" fill="#111"/>
<line x1="451.11" y1="552.2" x2="451.11" y2="555.6" stroke="#333" stroke-width="1"/>
<line x1="469.72" y1="552.2" x2="469.72" y2="555.6" stroke="#333" stroke-width="1"/>
<line x1="488.33" y1="552.2" x2="488.33" y2="555.6" stroke="#333" stroke-width="1"/>
<line x1="506.95" y1="552.2" x2="506.95" y2="555.6" stroke="#333" stroke-width="1"/>
<line x1="525.56" y1="552.2" x2="525.56" y2="555.6" stroke="#333" stroke-width="1"/>
<rect x="543.50" y="551.8000000000001" width="2" height="3.8" fill="#111"/>
<line x1="563.11" y1="552.2" x2="563.11" y2="555.6" stroke="#333" stroke-width="1"/>
<line x1="581.72" y1="552.2" x2="581.72" y2="555.6" stroke="#333" stroke-width="1"/>
<line x1="600.34" y1="552.2" x2="600.34" y2="555.6" stroke="#333" stroke-width="1"/>
<line x1="618.95" y1="552.2" x2="618.95" y2="555.6" stroke="#333" stroke-width="1"/>
<line x1="637.56" y1="552.2" x2="637.56" y2="555.6" stroke="#333" stroke-width="1"/>
<rect x="654.90" y="551.8000000000001" width="2" height="3.8" fill="#111"/>
<line x1="674.51" y1="552.2" x2="674.51" y2="555.6" stroke="#333" stroke-width="1"/>
<line x1="693.12" y1="552.2" x2="693.12" y2="555.6" stroke="#333" stroke-width="1"/>
<line x1="711.74" y1="552.2" x2="711.74" y2="555.6" stroke="#333" stroke-width="1"/>
<line x1="730.35" y1="552.2" x2="730.35" y2="555.6" stroke="#333" stroke-width="1"/>
<line x1="748.96" y1="552.2" x2="748.96" y2="555.6" stroke="#333" stroke-width="1"/>
<rect x="767.00" y="551.8000000000001" width="2" height="3.8" fill="#111"/>
<line x1="786.61" y1="552.2" x2="786.61" y2="555.6" stroke="#333" stroke-width="1"/>
<line x1="805.22" y1="552.2" x2="805.22" y2="555.6" stroke="#333" stroke-width="1"/>
<line x1="823.84" y1="552.2" x2="823.84" y2="555.6" stroke="#333" stroke-width="1"/>
<line x1="842.45" y1="552.2" x2="842.45" y2="555.6" stroke="#333" stroke-width="1"/>
<line x1="861.06" y1="552.2" x2="861.06" y2="555.6" stroke="#333" stroke-width="1"/>
<rect x="878.00" y="551.8000000000001" width="2" height="3.8" fill="#111"/>
<line x1="897.61" y1="552.2" x2="897.61" y2="555.6" stroke="#333" stroke-width="1"/>
<line x1="916.22" y1="552.2" x2="916.22" y2="555.6" stroke="#333" stroke-width="1"/>
<line x1="934.84" y1="552.2" x2="934.84" y2="555.6" stroke="#333" stroke-width="1"/>
<line x1="51.50" y1="552.2" x2="51.50" y2="584" stroke="#111" stroke-width="1"/>
<line x1="162.50" y1="552.2" x2="162.50" y2="584" stroke="#111" stroke-width="1"/>
<line x1="274.30" y1="552.2" x2="274.30" y2="584" stroke="#111" stroke-width="1"/>
<line x1="386.25" y1="552.2" x2="386.25" y2="584" stroke="#111" stroke-width="1"/>
<line x1="497.50" y1="552.2" x2="497.50" y2="584" stroke="#111" stroke-width="1"/>
<line x1="609.30" y1="552.2" x2="609.30" y2="584" stroke="#111" stroke-width="1"/>
<line x1="720.60" y1="552.2" x2="720.60" y2="584" stroke="#111" stroke-width="1"/>
<line x1="832.30" y1="552.2" x2="832.30" y2="584" stroke="#111" stroke-width="1"/>
<text x="24.20" y="565.8" font-size="12" fill="#3c3c3c" text-anchor="middle" textLength="29.8" lengthAdjust="spacingAndGlyphs" >08:00</text>
<text x="98.90" y="565.8" font-size="12" fill="#3c3c3c" text-anchor="middle" textLength="29.9" lengthAdjust="spacingAndGlyphs" >00:00</text>
<text x="136.40" y="565.8" font-size="12" fill="#3c3c3c" text-anchor="middle" textLength="30.2" lengthAdjust="spacingAndGlyphs" >08:00</text>
<text x="106.40" y="580.3" font-size="12" fill="#3c3c3c" text-anchor="middle" textLength="62.2" lengthAdjust="spacingAndGlyphs" >11 Jul 2025</text>
<text x="210.90" y="565.8" font-size="12" fill="#3c3c3c" text-anchor="middle" textLength="29.9" lengthAdjust="spacingAndGlyphs" >00:00</text>
<text x="248.40" y="565.8" font-size="12" fill="#3c3c3c" text-anchor="middle" textLength="30.2" lengthAdjust="spacingAndGlyphs" >08:00</text>
<text x="218.40" y="580.3" font-size="12" fill="#3c3c3c" text-anchor="middle" textLength="62.2" lengthAdjust="spacingAndGlyphs" >12 Jul 2025</text>
<text x="321.90" y="565.8" font-size="12" fill="#3c3c3c" text-anchor="middle" textLength="29.9" lengthAdjust="spacingAndGlyphs" >00:00</text>
<text x="359.40" y="565.8" font-size="12" fill="#3c3c3c" text-anchor="middle" textLength="30.2" lengthAdjust="spacingAndGlyphs" >08:00</text>
<text x="329.40" y="580.3" font-size="12" fill="#3c3c3c" text-anchor="middle" textLength="62.2" lengthAdjust="spacingAndGlyphs" >13 Jul 2025</text>
<text x="433.90" y="565.8" font-size="12" fill="#3c3c3c" text-anchor="middle" textLength="29.9" lengthAdjust="spacingAndGlyphs" >00:00</text>
<text x="471.40" y="565.8" font-size="12" fill="#3c3c3c" text-anchor="middle" textLength="30.2" lengthAdjust="spacingAndGlyphs" >08:00</text>
<text x="441.40" y="580.3" font-size="12" fill="#3c3c3c" text-anchor="middle" textLength="62.2" lengthAdjust="spacingAndGlyphs" >14 Jul 2025</text>
<text x="545.90" y="565.8" font-size="12" fill="#3c3c3c" text-anchor="middle" textLength="29.9" lengthAdjust="spacingAndGlyphs" >00:00</text>
<text x="583.40" y="565.8" font-size="12" fill="#3c3c3c" text-anchor="middle" textLength="30.2" lengthAdjust="spacingAndGlyphs" >08:00</text>
<text x="553.40" y="580.3" font-size="12" fill="#3c3c3c" text-anchor="middle" textLength="62.2" lengthAdjust="spacingAndGlyphs" >15 Jul 2025</text>
<text x="657.30" y="565.8" font-size="12" fill="#3c3c3c" text-anchor="middle" textLength="29.9" lengthAdjust="spacingAndGlyphs" >00:00</text>
<text x="694.80" y="565.8" font-size="12" fill="#3c3c3c" text-anchor="middle" textLength="30.2" lengthAdjust="spacingAndGlyphs" >08:00</text>
<text x="664.80" y="580.3" font-size="12" fill="#3c3c3c" text-anchor="middle" textLength="62.2" lengthAdjust="spacingAndGlyphs" >16 Jul 2025</text>
<text x="769.40" y="565.8" font-size="12" fill="#3c3c3c" text-anchor="middle" textLength="29.9" lengthAdjust="spacingAndGlyphs" >00:00</text>
<text x="806.90" y="565.8" font-size="12" fill="#3c3c3c" text-anchor="middle" textLength="30.2" lengthAdjust="spacingAndGlyphs" >08:00</text>
<text x="776.90" y="580.3" font-size="12" fill="#3c3c3c" text-anchor="middle" textLength="62.2" lengthAdjust="spacingAndGlyphs" >17 Jul 2025</text>
<text x="880.40" y="565.8" font-size="12" fill="#3c3c3c" text-anchor="middle" textLength="29.9" lengthAdjust="spacingAndGlyphs" >00:00</text>
<text x="917.90" y="565.8" font-size="12" fill="#3c3c3c" text-anchor="middle" textLength="30.2" lengthAdjust="spacingAndGlyphs" >08:00</text>
<text x="887.90" y="580.3" font-size="12" fill="#3c3c3c" text-anchor="middle" textLength="62.2" lengthAdjust="spacingAndGlyphs" >18 Jul 2025</text>
<text x="88" y="591.8" font-size="12" font-weight="bold" fill="#1a1a1a" textLength="846" lengthAdjust="spacingAndGlyphs">Australia 61 2 9777 8600 Brazil 5511 2395 9000 Europe 44 20 7330 7500 Germany 49 69 9204 1210 Hong Kong 852 2977 6000</text>
<rect x="652.6" y="427.2" width="272.2" height="28" rx="3.5" ry="3.5" fill="#fff" stroke="#3a3a3a" stroke-width="1.1"/>
<rect x="659.5" y="437.5" width="6" height="6" fill="#fff" stroke="#8a8a8a" stroke-width="0.9"/>
<path d="M660.8 440.5h3.4M662.5 438.8v3.4" stroke="#555" stroke-width="0.9" fill="none"/>
<rect x="668.4" y="435.4" width="11" height="11" fill="#050505"/>
<text x="683.4" y="447.0" font-size="13" fill="#3c3c3c" textLength="234.4" lengthAdjust="spacingAndGlyphs">XET-USD Cross Rate - Last Price 3583.725</text>
</svg>
</body></html>
